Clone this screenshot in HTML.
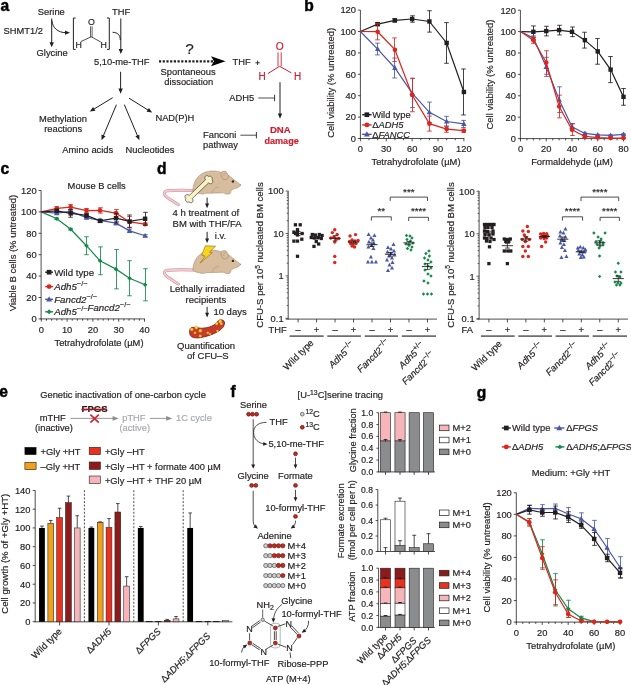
<!DOCTYPE html>
<html><head><meta charset="utf-8"><style>
html,body{margin:0;padding:0;background:#fff;}
svg{display:block;font-family:"Liberation Sans",sans-serif;will-change:transform;}
</style></head><body>
<svg width="631" height="685" viewBox="0 0 631 685" fill="#231f20">
<rect width="631" height="685" fill="#fff"/>
<text x="0.40" y="10.70" font-size="15.6" fill="#000" font-weight="bold" stroke="#000" stroke-width="0.45" >a</text>
<text x="37.80" y="14.80" font-size="9.35" stroke="#231f20" stroke-width="0.18" >Serine</text>
<text x="112.00" y="14.60" font-size="9.35" stroke="#231f20" stroke-width="0.18" >THF</text>
<text x="3.60" y="34.00" font-size="9.35" stroke="#231f20" stroke-width="0.18" >SHMT1/2</text>
<text x="36.60" y="56.40" font-size="9.35" stroke="#231f20" stroke-width="0.18" >Glycine</text>
<line x1="51.70" y1="18.50" x2="51.70" y2="43.20" stroke="#231f20" stroke-width="1.0" />
<path d="M51.70,47.20 L49.50,42.20 L53.90,42.20 Z" fill="#231f20"/>
<path d="M51.9,20.5 C52.5,28 58,32.6 66.0,32.7" stroke="#231f20" stroke-width="1.0" fill="none" />
<path d="M70.00,32.70 L65.00,34.80 L65.00,30.60 Z" fill="#231f20"/>
<path d="M75.6,18.0 L73.4,18.0 L73.4,49.4 L75.6,49.4" stroke="#231f20" stroke-width="1.0" fill="none" />
<path d="M107.0,18.0 L109.3,18.0 L109.3,49.4 L107.0,49.4" stroke="#231f20" stroke-width="1.0" fill="none" />
<text x="91.30" y="25.40" font-size="8.8" text-anchor="middle" stroke="#231f20" stroke-width="0.18" >O</text>
<line x1="90.50" y1="26.30" x2="90.50" y2="37.20" stroke="#231f20" stroke-width="0.7" />
<line x1="92.10" y1="26.30" x2="92.10" y2="37.20" stroke="#231f20" stroke-width="0.7" />
<line x1="80.80" y1="41.60" x2="91.20" y2="36.80" stroke="#231f20" stroke-width="0.8" />
<line x1="91.20" y1="36.80" x2="100.80" y2="42.00" stroke="#231f20" stroke-width="0.8" />
<text x="75.60" y="47.60" font-size="8.8" stroke="#231f20" stroke-width="0.18" >H</text>
<text x="100.60" y="47.60" font-size="8.8" stroke="#231f20" stroke-width="0.18" >H</text>
<line x1="120.80" y1="18.50" x2="120.80" y2="50.00" stroke="#231f20" stroke-width="1.0" />
<path d="M120.80,54.00 L118.60,49.00 L123.00,49.00 Z" fill="#231f20"/>
<path d="M112.6,32.3 C117.5,32.3 120.3,35 120.3,40.0" stroke="#231f20" stroke-width="1.0" fill="none" />
<text x="94.00" y="65.20" font-size="9.35" stroke="#231f20" stroke-width="0.18" >5,10-me-THF</text>
<line x1="159.00" y1="61.30" x2="213.50" y2="61.30" stroke="#231f20" stroke-width="2.3" stroke-dasharray="2.2 1.5"/>
<path d="M225.5,61.2 L211.0,56.2 L214.0,61.2 L211.0,66.2 Z" fill="#000"/>
<text x="189.60" y="54.20" font-size="15.4" text-anchor="middle" stroke="#231f20" stroke-width="0.18" >?</text>
<text x="160.60" y="74.80" font-size="9.35" stroke="#231f20" stroke-width="0.18" >Spontaneous</text>
<text x="164.30" y="85.00" font-size="9.35" stroke="#231f20" stroke-width="0.18" >dissociation</text>
<text x="232.50" y="65.40" font-size="9.35" stroke="#231f20" stroke-width="0.18" >THF</text>
<line x1="255.40" y1="62.80" x2="259.80" y2="62.80" stroke="#231f20" stroke-width="0.9" />
<line x1="257.60" y1="60.60" x2="257.60" y2="65.00" stroke="#231f20" stroke-width="0.9" />
<text x="279.60" y="50.30" font-size="10.2" text-anchor="middle" fill="#cc1f2e" stroke="#cc1f2e" stroke-width="0.18" >O</text>
<line x1="278.00" y1="52.40" x2="278.00" y2="66.20" stroke="#cc1f2e" stroke-width="0.9" />
<line x1="281.20" y1="52.40" x2="281.20" y2="66.20" stroke="#cc1f2e" stroke-width="0.9" />
<path d="M267.8,73.6 L279.6,66.3 L291.4,72.9" stroke="#cc1f2e" stroke-width="1.0" fill="none" />
<text x="258.60" y="80.30" font-size="10.0" fill="#cc1f2e" stroke="#cc1f2e" stroke-width="0.18" >H</text>
<text x="294.00" y="80.30" font-size="10.0" fill="#cc1f2e" stroke="#cc1f2e" stroke-width="0.18" >H</text>
<line x1="280.00" y1="82.20" x2="280.00" y2="114.64" stroke="#231f20" stroke-width="1.0" />
<path d="M280.00,118.80 L277.80,113.60 L282.20,113.60 Z" fill="#231f20"/>
<text x="229.20" y="101.20" font-size="9.35" stroke="#231f20" stroke-width="0.18" >ADH5</text>
<line x1="258.30" y1="98.00" x2="274.60" y2="98.00" stroke="#231f20" stroke-width="0.8" />
<line x1="274.60" y1="94.80" x2="274.60" y2="101.20" stroke="#231f20" stroke-width="0.9" />
<text x="280.30" y="133.20" font-size="9.6" text-anchor="middle" fill="#cc1f2e" font-weight="bold" stroke="#cc1f2e" stroke-width="0.18" >DNA</text>
<text x="281.60" y="144.00" font-size="9.1" text-anchor="middle" fill="#cc1f2e" font-weight="bold" stroke="#cc1f2e" stroke-width="0.18" >damage</text>
<text x="203.00" y="137.60" font-size="9.35" stroke="#231f20" stroke-width="0.18" >Fanconi</text>
<text x="203.00" y="147.90" font-size="9.35" stroke="#231f20" stroke-width="0.18" >pathway</text>
<line x1="240.40" y1="135.20" x2="256.40" y2="135.20" stroke="#231f20" stroke-width="0.8" />
<line x1="256.40" y1="132.00" x2="256.40" y2="138.40" stroke="#231f20" stroke-width="0.9" />
<line x1="120.60" y1="71.80" x2="120.60" y2="89.64" stroke="#231f20" stroke-width="1.0" />
<path d="M120.60,93.80 L118.40,88.60 L122.80,88.60 Z" fill="#231f20"/>
<line x1="112.70" y1="97.70" x2="93.36" y2="109.44" stroke="#231f20" stroke-width="1.0" />
<path d="M89.80,111.60 L93.10,107.02 L95.39,110.78 Z" fill="#231f20"/>
<line x1="116.40" y1="104.70" x2="103.11" y2="136.36" stroke="#231f20" stroke-width="1.0" />
<path d="M101.50,140.20 L101.48,134.55 L105.54,136.26 Z" fill="#231f20"/>
<line x1="129.00" y1="98.20" x2="148.67" y2="110.41" stroke="#231f20" stroke-width="1.0" />
<path d="M152.20,112.60 L146.62,111.73 L148.94,107.99 Z" fill="#231f20"/>
<line x1="124.30" y1="104.60" x2="137.78" y2="136.47" stroke="#231f20" stroke-width="1.0" />
<path d="M139.40,140.30 L135.35,136.37 L139.40,134.65 Z" fill="#231f20"/>
<text x="39.10" y="121.50" font-size="9.35" stroke="#231f20" stroke-width="0.18" >Methylation</text>
<text x="44.20" y="132.10" font-size="9.35" stroke="#231f20" stroke-width="0.18" >reactions</text>
<text x="62.30" y="152.70" font-size="9.35" stroke="#231f20" stroke-width="0.18" >Amino acids</text>
<text x="155.40" y="120.90" font-size="9.35" stroke="#231f20" stroke-width="0.18" >NAD(P)H</text>
<text x="125.60" y="153.20" font-size="9.35" stroke="#231f20" stroke-width="0.18" >Nucleotides</text>
<text x="304.30" y="10.70" font-size="15.6" fill="#000" font-weight="bold" stroke="#000" stroke-width="0.45" >b</text>
<line x1="360.40" y1="10.10" x2="360.40" y2="138.90" stroke="#231f20" stroke-width="0.8" />
<line x1="357.90" y1="138.50" x2="360.40" y2="138.50" stroke="#231f20" stroke-width="0.8" />
<text x="356.00" y="141.80" font-size="9.35" text-anchor="end" stroke="#231f20" stroke-width="0.18" >0</text>
<line x1="357.90" y1="117.10" x2="360.40" y2="117.10" stroke="#231f20" stroke-width="0.8" />
<text x="356.00" y="120.40" font-size="9.35" text-anchor="end" stroke="#231f20" stroke-width="0.18" >20</text>
<line x1="357.90" y1="95.70" x2="360.40" y2="95.70" stroke="#231f20" stroke-width="0.8" />
<text x="356.00" y="99.00" font-size="9.35" text-anchor="end" stroke="#231f20" stroke-width="0.18" >40</text>
<line x1="357.90" y1="74.30" x2="360.40" y2="74.30" stroke="#231f20" stroke-width="0.8" />
<text x="356.00" y="77.60" font-size="9.35" text-anchor="end" stroke="#231f20" stroke-width="0.18" >60</text>
<line x1="357.90" y1="52.90" x2="360.40" y2="52.90" stroke="#231f20" stroke-width="0.8" />
<text x="356.00" y="56.20" font-size="9.35" text-anchor="end" stroke="#231f20" stroke-width="0.18" >80</text>
<line x1="357.90" y1="31.50" x2="360.40" y2="31.50" stroke="#231f20" stroke-width="0.8" />
<text x="356.00" y="34.80" font-size="9.35" text-anchor="end" stroke="#231f20" stroke-width="0.18" >100</text>
<line x1="357.90" y1="10.10" x2="360.40" y2="10.10" stroke="#231f20" stroke-width="0.8" />
<text x="356.00" y="13.40" font-size="9.35" text-anchor="end" stroke="#231f20" stroke-width="0.18" >120</text>
<line x1="360.00" y1="138.50" x2="464.30" y2="138.50" stroke="#231f20" stroke-width="0.8" />
<line x1="360.40" y1="138.50" x2="360.40" y2="141.30" stroke="#231f20" stroke-width="0.8" />
<line x1="369.02" y1="138.50" x2="369.02" y2="140.30" stroke="#231f20" stroke-width="0.8" />
<line x1="377.65" y1="138.50" x2="377.65" y2="140.30" stroke="#231f20" stroke-width="0.8" />
<line x1="386.27" y1="138.50" x2="386.27" y2="141.30" stroke="#231f20" stroke-width="0.8" />
<line x1="394.90" y1="138.50" x2="394.90" y2="140.30" stroke="#231f20" stroke-width="0.8" />
<line x1="403.52" y1="138.50" x2="403.52" y2="140.30" stroke="#231f20" stroke-width="0.8" />
<line x1="412.15" y1="138.50" x2="412.15" y2="141.30" stroke="#231f20" stroke-width="0.8" />
<line x1="420.77" y1="138.50" x2="420.77" y2="140.30" stroke="#231f20" stroke-width="0.8" />
<line x1="429.40" y1="138.50" x2="429.40" y2="140.30" stroke="#231f20" stroke-width="0.8" />
<line x1="438.02" y1="138.50" x2="438.02" y2="141.30" stroke="#231f20" stroke-width="0.8" />
<line x1="446.65" y1="138.50" x2="446.65" y2="140.30" stroke="#231f20" stroke-width="0.8" />
<line x1="455.27" y1="138.50" x2="455.27" y2="140.30" stroke="#231f20" stroke-width="0.8" />
<line x1="463.90" y1="138.50" x2="463.90" y2="141.30" stroke="#231f20" stroke-width="0.8" />
<text x="360.40" y="152.30" font-size="9.35" text-anchor="middle" stroke="#231f20" stroke-width="0.18" >0</text>
<text x="386.27" y="152.30" font-size="9.35" text-anchor="middle" stroke="#231f20" stroke-width="0.18" >30</text>
<text x="412.15" y="152.30" font-size="9.35" text-anchor="middle" stroke="#231f20" stroke-width="0.18" >60</text>
<text x="438.02" y="152.30" font-size="9.35" text-anchor="middle" stroke="#231f20" stroke-width="0.18" >90</text>
<text x="463.90" y="152.30" font-size="9.35" text-anchor="middle" stroke="#231f20" stroke-width="0.18" >120</text>
<text x="416.00" y="165.10" font-size="9.35" text-anchor="middle" stroke="#231f20" stroke-width="0.18" >Tetrahydrofolate (µM)</text>
<text x="334.00" y="82.80" font-size="9.47" text-anchor="middle" transform="rotate(-90 334.00 82.80)" stroke="#231f20" stroke-width="0.18" >Cell viability (% untreated)</text>
<line x1="377.50" y1="22.51" x2="377.50" y2="25.72" stroke="#231f20" stroke-width="0.85" />
<line x1="375.20" y1="22.51" x2="379.80" y2="22.51" stroke="#231f20" stroke-width="0.85" />
<line x1="375.20" y1="25.72" x2="379.80" y2="25.72" stroke="#231f20" stroke-width="0.85" />
<line x1="394.50" y1="18.77" x2="394.50" y2="21.98" stroke="#231f20" stroke-width="0.85" />
<line x1="392.20" y1="18.77" x2="396.80" y2="18.77" stroke="#231f20" stroke-width="0.85" />
<line x1="392.20" y1="21.98" x2="396.80" y2="21.98" stroke="#231f20" stroke-width="0.85" />
<line x1="412.50" y1="15.77" x2="412.50" y2="22.19" stroke="#231f20" stroke-width="0.85" />
<line x1="410.20" y1="15.77" x2="414.80" y2="15.77" stroke="#231f20" stroke-width="0.85" />
<line x1="410.20" y1="22.19" x2="414.80" y2="22.19" stroke="#231f20" stroke-width="0.85" />
<line x1="429.50" y1="10.74" x2="429.50" y2="32.14" stroke="#231f20" stroke-width="0.85" />
<line x1="427.20" y1="10.74" x2="431.80" y2="10.74" stroke="#231f20" stroke-width="0.85" />
<line x1="427.20" y1="32.14" x2="431.80" y2="32.14" stroke="#231f20" stroke-width="0.85" />
<line x1="446.50" y1="22.62" x2="446.50" y2="63.28" stroke="#231f20" stroke-width="0.85" />
<line x1="444.20" y1="22.62" x2="448.80" y2="22.62" stroke="#231f20" stroke-width="0.85" />
<line x1="444.20" y1="63.28" x2="448.80" y2="63.28" stroke="#231f20" stroke-width="0.85" />
<line x1="463.50" y1="68.95" x2="463.50" y2="114.96" stroke="#231f20" stroke-width="0.85" />
<line x1="461.20" y1="68.95" x2="465.80" y2="68.95" stroke="#231f20" stroke-width="0.85" />
<line x1="461.20" y1="114.96" x2="465.80" y2="114.96" stroke="#231f20" stroke-width="0.85" />
<path d="M360.40,31.50 L377.65,24.12 L394.90,20.37 L412.15,18.98 L429.40,21.44 L446.65,42.95 L463.90,91.95" stroke="#231f20" stroke-width="1.2" fill="none" />
<rect x="375.44" y="21.91" width="4.41" height="4.41" fill="#231f20" stroke="none" stroke-width="0.6"/>
<rect x="392.69" y="18.17" width="4.41" height="4.41" fill="#231f20" stroke="none" stroke-width="0.6"/>
<rect x="409.94" y="16.78" width="4.41" height="4.41" fill="#231f20" stroke="none" stroke-width="0.6"/>
<rect x="427.19" y="19.24" width="4.41" height="4.41" fill="#231f20" stroke="none" stroke-width="0.6"/>
<rect x="444.44" y="40.74" width="4.41" height="4.41" fill="#231f20" stroke="none" stroke-width="0.6"/>
<rect x="461.69" y="89.75" width="4.41" height="4.41" fill="#231f20" stroke="none" stroke-width="0.6"/>
<line x1="377.50" y1="43.16" x2="377.50" y2="54.93" stroke="#4a56a6" stroke-width="0.85" />
<line x1="375.20" y1="43.16" x2="379.80" y2="43.16" stroke="#4a56a6" stroke-width="0.85" />
<line x1="375.20" y1="54.93" x2="379.80" y2="54.93" stroke="#4a56a6" stroke-width="0.85" />
<line x1="394.50" y1="58.04" x2="394.50" y2="77.94" stroke="#4a56a6" stroke-width="0.85" />
<line x1="392.20" y1="58.04" x2="396.80" y2="58.04" stroke="#4a56a6" stroke-width="0.85" />
<line x1="392.20" y1="77.94" x2="396.80" y2="77.94" stroke="#4a56a6" stroke-width="0.85" />
<line x1="412.50" y1="78.58" x2="412.50" y2="107.47" stroke="#4a56a6" stroke-width="0.85" />
<line x1="410.20" y1="78.58" x2="414.80" y2="78.58" stroke="#4a56a6" stroke-width="0.85" />
<line x1="410.20" y1="107.47" x2="414.80" y2="107.47" stroke="#4a56a6" stroke-width="0.85" />
<line x1="429.50" y1="102.12" x2="429.50" y2="122.45" stroke="#4a56a6" stroke-width="0.85" />
<line x1="427.20" y1="102.12" x2="431.80" y2="102.12" stroke="#4a56a6" stroke-width="0.85" />
<line x1="427.20" y1="122.45" x2="431.80" y2="122.45" stroke="#4a56a6" stroke-width="0.85" />
<line x1="446.50" y1="116.35" x2="446.50" y2="126.62" stroke="#4a56a6" stroke-width="0.85" />
<line x1="444.20" y1="116.35" x2="448.80" y2="116.35" stroke="#4a56a6" stroke-width="0.85" />
<line x1="444.20" y1="126.62" x2="448.80" y2="126.62" stroke="#4a56a6" stroke-width="0.85" />
<line x1="463.50" y1="120.42" x2="463.50" y2="127.48" stroke="#4a56a6" stroke-width="0.85" />
<line x1="461.20" y1="120.42" x2="465.80" y2="120.42" stroke="#4a56a6" stroke-width="0.85" />
<line x1="461.20" y1="127.48" x2="465.80" y2="127.48" stroke="#4a56a6" stroke-width="0.85" />
<path d="M360.40,31.50 L377.65,49.05 L394.90,67.99 L412.15,93.03 L429.40,112.28 L446.65,121.49 L463.90,123.95" stroke="#4a56a6" stroke-width="1.2" fill="none" />
<path d="M377.65,46.18 L380.38,51.10 L374.92,51.10 Z" fill="#4a56a6"/>
<path d="M394.90,65.12 L397.63,70.03 L392.17,70.03 Z" fill="#4a56a6"/>
<path d="M412.15,90.16 L414.88,95.07 L409.42,95.07 Z" fill="#4a56a6"/>
<path d="M429.40,109.42 L432.13,114.33 L426.67,114.33 Z" fill="#4a56a6"/>
<path d="M446.65,118.62 L449.38,123.53 L443.92,123.53 Z" fill="#4a56a6"/>
<path d="M463.90,121.08 L466.63,126.00 L461.17,126.00 Z" fill="#4a56a6"/>
<line x1="377.50" y1="23.58" x2="377.50" y2="39.85" stroke="#d9261e" stroke-width="0.85" />
<line x1="375.20" y1="23.58" x2="379.80" y2="23.58" stroke="#d9261e" stroke-width="0.85" />
<line x1="375.20" y1="39.85" x2="379.80" y2="39.85" stroke="#d9261e" stroke-width="0.85" />
<line x1="394.50" y1="37.92" x2="394.50" y2="61.46" stroke="#d9261e" stroke-width="0.85" />
<line x1="392.20" y1="37.92" x2="396.80" y2="37.92" stroke="#d9261e" stroke-width="0.85" />
<line x1="392.20" y1="61.46" x2="396.80" y2="61.46" stroke="#d9261e" stroke-width="0.85" />
<line x1="412.50" y1="78.15" x2="412.50" y2="111.75" stroke="#d9261e" stroke-width="0.85" />
<line x1="410.20" y1="78.15" x2="414.80" y2="78.15" stroke="#d9261e" stroke-width="0.85" />
<line x1="410.20" y1="111.75" x2="414.80" y2="111.75" stroke="#d9261e" stroke-width="0.85" />
<line x1="429.50" y1="116.14" x2="429.50" y2="131.12" stroke="#d9261e" stroke-width="0.85" />
<line x1="427.20" y1="116.14" x2="431.80" y2="116.14" stroke="#d9261e" stroke-width="0.85" />
<line x1="427.20" y1="131.12" x2="431.80" y2="131.12" stroke="#d9261e" stroke-width="0.85" />
<line x1="446.50" y1="125.87" x2="446.50" y2="132.29" stroke="#d9261e" stroke-width="0.85" />
<line x1="444.20" y1="125.87" x2="448.80" y2="125.87" stroke="#d9261e" stroke-width="0.85" />
<line x1="444.20" y1="132.29" x2="448.80" y2="132.29" stroke="#d9261e" stroke-width="0.85" />
<line x1="463.50" y1="129.08" x2="463.50" y2="132.29" stroke="#d9261e" stroke-width="0.85" />
<line x1="461.20" y1="129.08" x2="465.80" y2="129.08" stroke="#d9261e" stroke-width="0.85" />
<line x1="461.20" y1="132.29" x2="465.80" y2="132.29" stroke="#d9261e" stroke-width="0.85" />
<path d="M360.40,31.50 L377.65,31.71 L394.90,49.69 L412.15,94.95 L429.40,123.63 L446.65,129.08 L463.90,130.69" stroke="#d9261e" stroke-width="1.2" fill="none" />
<circle cx="377.65" cy="31.71" r="2.3100000000000005" fill="#d9261e" stroke="none" stroke-width="0.5"/>
<circle cx="394.90" cy="49.69" r="2.3100000000000005" fill="#d9261e" stroke="none" stroke-width="0.5"/>
<circle cx="412.15" cy="94.95" r="2.3100000000000005" fill="#d9261e" stroke="none" stroke-width="0.5"/>
<circle cx="429.40" cy="123.63" r="2.3100000000000005" fill="#d9261e" stroke="none" stroke-width="0.5"/>
<circle cx="446.65" cy="129.08" r="2.3100000000000005" fill="#d9261e" stroke="none" stroke-width="0.5"/>
<circle cx="463.90" cy="130.69" r="2.3100000000000005" fill="#d9261e" stroke="none" stroke-width="0.5"/>
<line x1="362.20" y1="114.70" x2="371.60" y2="114.70" stroke="#231f20" stroke-width="1.4" />
<rect x="364.55" y="112.35" width="4.70" height="4.70" fill="#231f20" stroke="none" stroke-width="0.6"/>
<text x="372.20" y="117.90" font-size="9.35" stroke="#231f20" stroke-width="0.18" >Wild type</text>
<line x1="362.20" y1="124.90" x2="371.60" y2="124.90" stroke="#d9261e" stroke-width="1.4" />
<circle cx="366.90" cy="124.90" r="2.4640000000000004" fill="#d9261e" stroke="none" stroke-width="0.5"/>
<text x="372.20" y="128.10" font-size="9.35" stroke="#231f20" stroke-width="0.18" >Δ<tspan font-style="italic">ADH5</tspan></text>
<line x1="362.20" y1="134.30" x2="371.60" y2="134.30" stroke="#4a56a6" stroke-width="1.4" />
<path d="M366.90,131.24 L369.81,136.48 L363.99,136.48 Z" fill="#4a56a6"/>
<text x="372.20" y="137.50" font-size="9.35" stroke="#231f20" stroke-width="0.18" >Δ<tspan font-style="italic">FANCC</tspan></text>
<line x1="520.40" y1="10.20" x2="520.40" y2="139.00" stroke="#231f20" stroke-width="0.8" />
<line x1="517.90" y1="138.60" x2="520.40" y2="138.60" stroke="#231f20" stroke-width="0.8" />
<text x="516.00" y="141.90" font-size="9.35" text-anchor="end" stroke="#231f20" stroke-width="0.18" >0</text>
<line x1="517.90" y1="117.20" x2="520.40" y2="117.20" stroke="#231f20" stroke-width="0.8" />
<text x="516.00" y="120.50" font-size="9.35" text-anchor="end" stroke="#231f20" stroke-width="0.18" >20</text>
<line x1="517.90" y1="95.80" x2="520.40" y2="95.80" stroke="#231f20" stroke-width="0.8" />
<text x="516.00" y="99.10" font-size="9.35" text-anchor="end" stroke="#231f20" stroke-width="0.18" >40</text>
<line x1="517.90" y1="74.40" x2="520.40" y2="74.40" stroke="#231f20" stroke-width="0.8" />
<text x="516.00" y="77.70" font-size="9.35" text-anchor="end" stroke="#231f20" stroke-width="0.18" >60</text>
<line x1="517.90" y1="53.00" x2="520.40" y2="53.00" stroke="#231f20" stroke-width="0.8" />
<text x="516.00" y="56.30" font-size="9.35" text-anchor="end" stroke="#231f20" stroke-width="0.18" >80</text>
<line x1="517.90" y1="31.60" x2="520.40" y2="31.60" stroke="#231f20" stroke-width="0.8" />
<text x="516.00" y="34.90" font-size="9.35" text-anchor="end" stroke="#231f20" stroke-width="0.18" >100</text>
<line x1="517.90" y1="10.20" x2="520.40" y2="10.20" stroke="#231f20" stroke-width="0.8" />
<text x="516.00" y="13.50" font-size="9.35" text-anchor="end" stroke="#231f20" stroke-width="0.18" >120</text>
<line x1="520.00" y1="138.60" x2="623.90" y2="138.60" stroke="#231f20" stroke-width="0.8" />
<line x1="520.50" y1="138.60" x2="520.50" y2="141.40" stroke="#231f20" stroke-width="0.8" />
<line x1="526.94" y1="138.60" x2="526.94" y2="140.40" stroke="#231f20" stroke-width="0.8" />
<line x1="533.38" y1="138.60" x2="533.38" y2="140.40" stroke="#231f20" stroke-width="0.8" />
<line x1="539.81" y1="138.60" x2="539.81" y2="140.40" stroke="#231f20" stroke-width="0.8" />
<line x1="546.25" y1="138.60" x2="546.25" y2="141.40" stroke="#231f20" stroke-width="0.8" />
<line x1="552.69" y1="138.60" x2="552.69" y2="140.40" stroke="#231f20" stroke-width="0.8" />
<line x1="559.12" y1="138.60" x2="559.12" y2="140.40" stroke="#231f20" stroke-width="0.8" />
<line x1="565.56" y1="138.60" x2="565.56" y2="140.40" stroke="#231f20" stroke-width="0.8" />
<line x1="572.00" y1="138.60" x2="572.00" y2="141.40" stroke="#231f20" stroke-width="0.8" />
<line x1="578.44" y1="138.60" x2="578.44" y2="140.40" stroke="#231f20" stroke-width="0.8" />
<line x1="584.88" y1="138.60" x2="584.88" y2="140.40" stroke="#231f20" stroke-width="0.8" />
<line x1="591.31" y1="138.60" x2="591.31" y2="140.40" stroke="#231f20" stroke-width="0.8" />
<line x1="597.75" y1="138.60" x2="597.75" y2="141.40" stroke="#231f20" stroke-width="0.8" />
<line x1="604.19" y1="138.60" x2="604.19" y2="140.40" stroke="#231f20" stroke-width="0.8" />
<line x1="610.62" y1="138.60" x2="610.62" y2="140.40" stroke="#231f20" stroke-width="0.8" />
<line x1="617.06" y1="138.60" x2="617.06" y2="140.40" stroke="#231f20" stroke-width="0.8" />
<line x1="623.50" y1="138.60" x2="623.50" y2="141.40" stroke="#231f20" stroke-width="0.8" />
<text x="520.50" y="152.30" font-size="9.35" text-anchor="middle" stroke="#231f20" stroke-width="0.18" >0</text>
<text x="546.25" y="152.30" font-size="9.35" text-anchor="middle" stroke="#231f20" stroke-width="0.18" >20</text>
<text x="572.00" y="152.30" font-size="9.35" text-anchor="middle" stroke="#231f20" stroke-width="0.18" >40</text>
<text x="597.75" y="152.30" font-size="9.35" text-anchor="middle" stroke="#231f20" stroke-width="0.18" >60</text>
<text x="623.50" y="152.30" font-size="9.35" text-anchor="middle" stroke="#231f20" stroke-width="0.18" >80</text>
<text x="572.00" y="165.10" font-size="9.35" text-anchor="middle" stroke="#231f20" stroke-width="0.18" >Formaldehyde (µM)</text>
<text x="493.20" y="74.50" font-size="9.47" text-anchor="middle" transform="rotate(-90 493.20 74.50)" stroke="#231f20" stroke-width="0.18" >Cell viability (% untreated)</text>
<line x1="533.50" y1="25.93" x2="533.50" y2="37.70" stroke="#231f20" stroke-width="0.85" />
<line x1="531.20" y1="25.93" x2="535.80" y2="25.93" stroke="#231f20" stroke-width="0.85" />
<line x1="531.20" y1="37.70" x2="535.80" y2="37.70" stroke="#231f20" stroke-width="0.85" />
<line x1="546.50" y1="26.25" x2="546.50" y2="35.88" stroke="#231f20" stroke-width="0.85" />
<line x1="544.20" y1="26.25" x2="548.80" y2="26.25" stroke="#231f20" stroke-width="0.85" />
<line x1="544.20" y1="35.88" x2="548.80" y2="35.88" stroke="#231f20" stroke-width="0.85" />
<line x1="559.50" y1="25.29" x2="559.50" y2="34.92" stroke="#231f20" stroke-width="0.85" />
<line x1="557.20" y1="25.29" x2="561.80" y2="25.29" stroke="#231f20" stroke-width="0.85" />
<line x1="557.20" y1="34.92" x2="561.80" y2="34.92" stroke="#231f20" stroke-width="0.85" />
<line x1="572.50" y1="27.00" x2="572.50" y2="36.63" stroke="#231f20" stroke-width="0.85" />
<line x1="570.20" y1="27.00" x2="574.80" y2="27.00" stroke="#231f20" stroke-width="0.85" />
<line x1="570.20" y1="36.63" x2="574.80" y2="36.63" stroke="#231f20" stroke-width="0.85" />
<line x1="584.50" y1="32.24" x2="584.50" y2="48.08" stroke="#231f20" stroke-width="0.85" />
<line x1="582.20" y1="32.24" x2="586.80" y2="32.24" stroke="#231f20" stroke-width="0.85" />
<line x1="582.20" y1="48.08" x2="586.80" y2="48.08" stroke="#231f20" stroke-width="0.85" />
<line x1="597.50" y1="38.55" x2="597.50" y2="64.23" stroke="#231f20" stroke-width="0.85" />
<line x1="595.20" y1="38.55" x2="599.80" y2="38.55" stroke="#231f20" stroke-width="0.85" />
<line x1="595.20" y1="64.23" x2="599.80" y2="64.23" stroke="#231f20" stroke-width="0.85" />
<line x1="610.50" y1="56.53" x2="610.50" y2="82.64" stroke="#231f20" stroke-width="0.85" />
<line x1="608.20" y1="56.53" x2="612.80" y2="56.53" stroke="#231f20" stroke-width="0.85" />
<line x1="608.20" y1="82.64" x2="612.80" y2="82.64" stroke="#231f20" stroke-width="0.85" />
<line x1="623.50" y1="88.52" x2="623.50" y2="105.22" stroke="#231f20" stroke-width="0.85" />
<line x1="621.20" y1="88.52" x2="625.80" y2="88.52" stroke="#231f20" stroke-width="0.85" />
<line x1="621.20" y1="105.22" x2="625.80" y2="105.22" stroke="#231f20" stroke-width="0.85" />
<path d="M520.50,31.60 L533.38,31.81 L546.25,31.06 L559.12,30.10 L572.00,31.81 L584.88,40.16 L597.75,51.39 L610.62,69.58 L623.50,96.87" stroke="#231f20" stroke-width="1.2" fill="none" />
<rect x="531.17" y="29.61" width="4.41" height="4.41" fill="#231f20" stroke="none" stroke-width="0.6"/>
<rect x="544.04" y="28.86" width="4.41" height="4.41" fill="#231f20" stroke="none" stroke-width="0.6"/>
<rect x="556.92" y="27.90" width="4.41" height="4.41" fill="#231f20" stroke="none" stroke-width="0.6"/>
<rect x="569.79" y="29.61" width="4.41" height="4.41" fill="#231f20" stroke="none" stroke-width="0.6"/>
<rect x="582.67" y="37.95" width="4.41" height="4.41" fill="#231f20" stroke="none" stroke-width="0.6"/>
<rect x="595.54" y="49.19" width="4.41" height="4.41" fill="#231f20" stroke="none" stroke-width="0.6"/>
<rect x="608.42" y="67.38" width="4.41" height="4.41" fill="#231f20" stroke="none" stroke-width="0.6"/>
<rect x="621.29" y="94.66" width="4.41" height="4.41" fill="#231f20" stroke="none" stroke-width="0.6"/>
<line x1="533.50" y1="35.88" x2="533.50" y2="40.16" stroke="#4a56a6" stroke-width="0.85" />
<line x1="531.20" y1="35.88" x2="535.80" y2="35.88" stroke="#4a56a6" stroke-width="0.85" />
<line x1="531.20" y1="40.16" x2="535.80" y2="40.16" stroke="#4a56a6" stroke-width="0.85" />
<line x1="546.50" y1="57.28" x2="546.50" y2="76.54" stroke="#4a56a6" stroke-width="0.85" />
<line x1="544.20" y1="57.28" x2="548.80" y2="57.28" stroke="#4a56a6" stroke-width="0.85" />
<line x1="544.20" y1="76.54" x2="548.80" y2="76.54" stroke="#4a56a6" stroke-width="0.85" />
<line x1="559.50" y1="86.81" x2="559.50" y2="112.49" stroke="#4a56a6" stroke-width="0.85" />
<line x1="557.20" y1="86.81" x2="561.80" y2="86.81" stroke="#4a56a6" stroke-width="0.85" />
<line x1="557.20" y1="112.49" x2="561.80" y2="112.49" stroke="#4a56a6" stroke-width="0.85" />
<line x1="572.50" y1="123.51" x2="572.50" y2="129.93" stroke="#4a56a6" stroke-width="0.85" />
<line x1="570.20" y1="123.51" x2="574.80" y2="123.51" stroke="#4a56a6" stroke-width="0.85" />
<line x1="570.20" y1="129.93" x2="574.80" y2="129.93" stroke="#4a56a6" stroke-width="0.85" />
<line x1="584.50" y1="132.39" x2="584.50" y2="134.53" stroke="#4a56a6" stroke-width="0.85" />
<line x1="582.20" y1="132.39" x2="586.80" y2="132.39" stroke="#4a56a6" stroke-width="0.85" />
<line x1="582.20" y1="134.53" x2="586.80" y2="134.53" stroke="#4a56a6" stroke-width="0.85" />
<line x1="597.50" y1="134.32" x2="597.50" y2="135.39" stroke="#4a56a6" stroke-width="0.85" />
<line x1="595.20" y1="134.32" x2="599.80" y2="134.32" stroke="#4a56a6" stroke-width="0.85" />
<line x1="595.20" y1="135.39" x2="599.80" y2="135.39" stroke="#4a56a6" stroke-width="0.85" />
<line x1="610.50" y1="134.85" x2="610.50" y2="135.92" stroke="#4a56a6" stroke-width="0.85" />
<line x1="608.20" y1="134.85" x2="612.80" y2="134.85" stroke="#4a56a6" stroke-width="0.85" />
<line x1="608.20" y1="135.92" x2="612.80" y2="135.92" stroke="#4a56a6" stroke-width="0.85" />
<line x1="623.50" y1="133.78" x2="623.50" y2="134.85" stroke="#4a56a6" stroke-width="0.85" />
<line x1="621.20" y1="133.78" x2="625.80" y2="133.78" stroke="#4a56a6" stroke-width="0.85" />
<line x1="621.20" y1="134.85" x2="625.80" y2="134.85" stroke="#4a56a6" stroke-width="0.85" />
<path d="M520.50,31.60 L533.38,38.02 L546.25,66.91 L559.12,99.65 L572.00,126.72 L584.88,133.46 L597.75,134.85 L610.62,135.39 L623.50,134.32" stroke="#4a56a6" stroke-width="1.2" fill="none" />
<path d="M533.38,35.15 L536.11,40.07 L530.64,40.07 Z" fill="#4a56a6"/>
<path d="M546.25,64.04 L548.98,68.96 L543.52,68.96 Z" fill="#4a56a6"/>
<path d="M559.12,96.79 L561.86,101.70 L556.39,101.70 Z" fill="#4a56a6"/>
<path d="M572.00,123.86 L574.73,128.77 L569.27,128.77 Z" fill="#4a56a6"/>
<path d="M584.88,130.60 L587.61,135.51 L582.14,135.51 Z" fill="#4a56a6"/>
<path d="M597.75,131.99 L600.48,136.90 L595.02,136.90 Z" fill="#4a56a6"/>
<path d="M610.62,132.52 L613.36,137.44 L607.89,137.44 Z" fill="#4a56a6"/>
<path d="M623.50,131.45 L626.23,136.37 L620.77,136.37 Z" fill="#4a56a6"/>
<line x1="533.50" y1="36.95" x2="533.50" y2="43.37" stroke="#d9261e" stroke-width="0.85" />
<line x1="531.20" y1="36.95" x2="535.80" y2="36.95" stroke="#d9261e" stroke-width="0.85" />
<line x1="531.20" y1="43.37" x2="535.80" y2="43.37" stroke="#d9261e" stroke-width="0.85" />
<line x1="546.50" y1="50.75" x2="546.50" y2="74.29" stroke="#d9261e" stroke-width="0.85" />
<line x1="544.20" y1="50.75" x2="548.80" y2="50.75" stroke="#d9261e" stroke-width="0.85" />
<line x1="544.20" y1="74.29" x2="548.80" y2="74.29" stroke="#d9261e" stroke-width="0.85" />
<line x1="559.50" y1="95.16" x2="559.50" y2="117.84" stroke="#d9261e" stroke-width="0.85" />
<line x1="557.20" y1="95.16" x2="561.80" y2="95.16" stroke="#d9261e" stroke-width="0.85" />
<line x1="557.20" y1="117.84" x2="561.80" y2="117.84" stroke="#d9261e" stroke-width="0.85" />
<line x1="572.50" y1="123.94" x2="572.50" y2="135.50" stroke="#d9261e" stroke-width="0.85" />
<line x1="570.20" y1="123.94" x2="574.80" y2="123.94" stroke="#d9261e" stroke-width="0.85" />
<line x1="570.20" y1="135.50" x2="574.80" y2="135.50" stroke="#d9261e" stroke-width="0.85" />
<line x1="584.50" y1="135.39" x2="584.50" y2="137.53" stroke="#d9261e" stroke-width="0.85" />
<line x1="582.20" y1="135.39" x2="586.80" y2="135.39" stroke="#d9261e" stroke-width="0.85" />
<line x1="582.20" y1="137.53" x2="586.80" y2="137.53" stroke="#d9261e" stroke-width="0.85" />
<line x1="597.50" y1="137.00" x2="597.50" y2="138.06" stroke="#d9261e" stroke-width="0.85" />
<line x1="595.20" y1="137.00" x2="599.80" y2="137.00" stroke="#d9261e" stroke-width="0.85" />
<line x1="595.20" y1="138.06" x2="599.80" y2="138.06" stroke="#d9261e" stroke-width="0.85" />
<line x1="610.50" y1="137.74" x2="610.50" y2="138.39" stroke="#d9261e" stroke-width="0.85" />
<line x1="608.20" y1="137.74" x2="612.80" y2="137.74" stroke="#d9261e" stroke-width="0.85" />
<line x1="608.20" y1="138.39" x2="612.80" y2="138.39" stroke="#d9261e" stroke-width="0.85" />
<line x1="623.50" y1="137.74" x2="623.50" y2="138.39" stroke="#d9261e" stroke-width="0.85" />
<line x1="621.20" y1="137.74" x2="625.80" y2="137.74" stroke="#d9261e" stroke-width="0.85" />
<line x1="621.20" y1="138.39" x2="625.80" y2="138.39" stroke="#d9261e" stroke-width="0.85" />
<path d="M520.50,31.60 L533.38,40.16 L546.25,62.52 L559.12,106.50 L572.00,129.72 L584.88,136.46 L597.75,137.53 L610.62,138.06 L623.50,138.06" stroke="#d9261e" stroke-width="1.2" fill="none" />
<circle cx="533.38" cy="40.16" r="2.3100000000000005" fill="#d9261e" stroke="none" stroke-width="0.5"/>
<circle cx="546.25" cy="62.52" r="2.3100000000000005" fill="#d9261e" stroke="none" stroke-width="0.5"/>
<circle cx="559.12" cy="106.50" r="2.3100000000000005" fill="#d9261e" stroke="none" stroke-width="0.5"/>
<circle cx="572.00" cy="129.72" r="2.3100000000000005" fill="#d9261e" stroke="none" stroke-width="0.5"/>
<circle cx="584.88" cy="136.46" r="2.3100000000000005" fill="#d9261e" stroke="none" stroke-width="0.5"/>
<circle cx="597.75" cy="137.53" r="2.3100000000000005" fill="#d9261e" stroke="none" stroke-width="0.5"/>
<circle cx="610.62" cy="138.06" r="2.3100000000000005" fill="#d9261e" stroke="none" stroke-width="0.5"/>
<circle cx="623.50" cy="138.06" r="2.3100000000000005" fill="#d9261e" stroke="none" stroke-width="0.5"/>
<text x="0.60" y="174.00" font-size="15.6" fill="#000" font-weight="bold" stroke="#000" stroke-width="0.45" >c</text>
<text x="67.60" y="188.50" font-size="9.35" stroke="#231f20" stroke-width="0.18" >Mouse B cells</text>
<line x1="41.10" y1="190.50" x2="41.10" y2="319.30" stroke="#231f20" stroke-width="0.8" />
<line x1="38.60" y1="318.90" x2="41.10" y2="318.90" stroke="#231f20" stroke-width="0.8" />
<text x="36.60" y="322.20" font-size="9.35" text-anchor="end" stroke="#231f20" stroke-width="0.18" >0</text>
<line x1="38.60" y1="297.50" x2="41.10" y2="297.50" stroke="#231f20" stroke-width="0.8" />
<text x="36.60" y="300.80" font-size="9.35" text-anchor="end" stroke="#231f20" stroke-width="0.18" >20</text>
<line x1="38.60" y1="276.10" x2="41.10" y2="276.10" stroke="#231f20" stroke-width="0.8" />
<text x="36.60" y="279.40" font-size="9.35" text-anchor="end" stroke="#231f20" stroke-width="0.18" >40</text>
<line x1="38.60" y1="254.70" x2="41.10" y2="254.70" stroke="#231f20" stroke-width="0.8" />
<text x="36.60" y="258.00" font-size="9.35" text-anchor="end" stroke="#231f20" stroke-width="0.18" >60</text>
<line x1="38.60" y1="233.30" x2="41.10" y2="233.30" stroke="#231f20" stroke-width="0.8" />
<text x="36.60" y="236.60" font-size="9.35" text-anchor="end" stroke="#231f20" stroke-width="0.18" >80</text>
<line x1="38.60" y1="211.90" x2="41.10" y2="211.90" stroke="#231f20" stroke-width="0.8" />
<text x="36.60" y="215.20" font-size="9.35" text-anchor="end" stroke="#231f20" stroke-width="0.18" >100</text>
<line x1="38.60" y1="190.50" x2="41.10" y2="190.50" stroke="#231f20" stroke-width="0.8" />
<text x="36.60" y="193.80" font-size="9.35" text-anchor="end" stroke="#231f20" stroke-width="0.18" >120</text>
<line x1="40.70" y1="318.90" x2="144.90" y2="318.90" stroke="#231f20" stroke-width="0.8" />
<line x1="41.30" y1="318.90" x2="41.30" y2="321.70" stroke="#231f20" stroke-width="0.8" />
<line x1="46.46" y1="318.90" x2="46.46" y2="320.70" stroke="#231f20" stroke-width="0.8" />
<line x1="51.62" y1="318.90" x2="51.62" y2="320.70" stroke="#231f20" stroke-width="0.8" />
<line x1="56.78" y1="318.90" x2="56.78" y2="320.70" stroke="#231f20" stroke-width="0.8" />
<line x1="61.94" y1="318.90" x2="61.94" y2="320.70" stroke="#231f20" stroke-width="0.8" />
<line x1="67.10" y1="318.90" x2="67.10" y2="321.70" stroke="#231f20" stroke-width="0.8" />
<line x1="72.26" y1="318.90" x2="72.26" y2="320.70" stroke="#231f20" stroke-width="0.8" />
<line x1="77.42" y1="318.90" x2="77.42" y2="320.70" stroke="#231f20" stroke-width="0.8" />
<line x1="82.58" y1="318.90" x2="82.58" y2="320.70" stroke="#231f20" stroke-width="0.8" />
<line x1="87.74" y1="318.90" x2="87.74" y2="320.70" stroke="#231f20" stroke-width="0.8" />
<line x1="92.90" y1="318.90" x2="92.90" y2="321.70" stroke="#231f20" stroke-width="0.8" />
<line x1="98.06" y1="318.90" x2="98.06" y2="320.70" stroke="#231f20" stroke-width="0.8" />
<line x1="103.22" y1="318.90" x2="103.22" y2="320.70" stroke="#231f20" stroke-width="0.8" />
<line x1="108.38" y1="318.90" x2="108.38" y2="320.70" stroke="#231f20" stroke-width="0.8" />
<line x1="113.54" y1="318.90" x2="113.54" y2="320.70" stroke="#231f20" stroke-width="0.8" />
<line x1="118.70" y1="318.90" x2="118.70" y2="321.70" stroke="#231f20" stroke-width="0.8" />
<line x1="123.86" y1="318.90" x2="123.86" y2="320.70" stroke="#231f20" stroke-width="0.8" />
<line x1="129.02" y1="318.90" x2="129.02" y2="320.70" stroke="#231f20" stroke-width="0.8" />
<line x1="134.18" y1="318.90" x2="134.18" y2="320.70" stroke="#231f20" stroke-width="0.8" />
<line x1="139.34" y1="318.90" x2="139.34" y2="320.70" stroke="#231f20" stroke-width="0.8" />
<line x1="144.50" y1="318.90" x2="144.50" y2="321.70" stroke="#231f20" stroke-width="0.8" />
<text x="41.30" y="333.10" font-size="9.35" text-anchor="middle" stroke="#231f20" stroke-width="0.18" >0</text>
<text x="67.10" y="333.10" font-size="9.35" text-anchor="middle" stroke="#231f20" stroke-width="0.18" >10</text>
<text x="92.90" y="333.10" font-size="9.35" text-anchor="middle" stroke="#231f20" stroke-width="0.18" >20</text>
<text x="118.70" y="333.10" font-size="9.35" text-anchor="middle" stroke="#231f20" stroke-width="0.18" >30</text>
<text x="144.50" y="333.10" font-size="9.35" text-anchor="middle" stroke="#231f20" stroke-width="0.18" >40</text>
<text x="99.00" y="346.30" font-size="9.35" text-anchor="middle" stroke="#231f20" stroke-width="0.18" >Tetrahydrofolate (µM)</text>
<text x="15.90" y="253.00" font-size="9.45" text-anchor="middle" transform="rotate(-90 15.90 253.00)" stroke="#231f20" stroke-width="0.18" >Viable B cells (% untreated)</text>
<line x1="56.50" y1="217.89" x2="56.50" y2="219.60" stroke="#14894a" stroke-width="0.85" />
<line x1="54.20" y1="217.89" x2="58.80" y2="217.89" stroke="#14894a" stroke-width="0.85" />
<line x1="54.20" y1="219.60" x2="58.80" y2="219.60" stroke="#14894a" stroke-width="0.85" />
<line x1="70.50" y1="228.38" x2="70.50" y2="230.09" stroke="#14894a" stroke-width="0.85" />
<line x1="68.20" y1="228.38" x2="72.80" y2="228.38" stroke="#14894a" stroke-width="0.85" />
<line x1="68.20" y1="230.09" x2="72.80" y2="230.09" stroke="#14894a" stroke-width="0.85" />
<line x1="86.50" y1="236.72" x2="86.50" y2="254.70" stroke="#14894a" stroke-width="0.85" />
<line x1="84.20" y1="236.72" x2="88.80" y2="236.72" stroke="#14894a" stroke-width="0.85" />
<line x1="84.20" y1="254.70" x2="88.80" y2="254.70" stroke="#14894a" stroke-width="0.85" />
<line x1="100.50" y1="246.89" x2="100.50" y2="274.71" stroke="#14894a" stroke-width="0.85" />
<line x1="98.20" y1="246.89" x2="102.80" y2="246.89" stroke="#14894a" stroke-width="0.85" />
<line x1="98.20" y1="274.71" x2="102.80" y2="274.71" stroke="#14894a" stroke-width="0.85" />
<line x1="116.50" y1="249.46" x2="116.50" y2="288.83" stroke="#14894a" stroke-width="0.85" />
<line x1="114.20" y1="249.46" x2="118.80" y2="249.46" stroke="#14894a" stroke-width="0.85" />
<line x1="114.20" y1="288.83" x2="118.80" y2="288.83" stroke="#14894a" stroke-width="0.85" />
<line x1="129.50" y1="260.69" x2="129.50" y2="295.79" stroke="#14894a" stroke-width="0.85" />
<line x1="127.20" y1="260.69" x2="131.80" y2="260.69" stroke="#14894a" stroke-width="0.85" />
<line x1="127.20" y1="295.79" x2="131.80" y2="295.79" stroke="#14894a" stroke-width="0.85" />
<line x1="145.50" y1="268.72" x2="145.50" y2="300.82" stroke="#14894a" stroke-width="0.85" />
<line x1="143.20" y1="268.72" x2="147.80" y2="268.72" stroke="#14894a" stroke-width="0.85" />
<line x1="143.20" y1="300.82" x2="147.80" y2="300.82" stroke="#14894a" stroke-width="0.85" />
<path d="M41.30,211.90 L56.90,218.75 L70.70,229.23 L86.50,245.71 L100.00,260.80 L116.00,269.14 L129.60,278.24 L145.10,284.77" stroke="#14894a" stroke-width="1.2" fill="none" />
<path d="M56.90,216.44 L59.21,218.75 L56.90,221.06 L54.59,218.75 Z" fill="#14894a"/>
<path d="M70.70,226.92 L73.01,229.23 L70.70,231.54 L68.39,229.23 Z" fill="#14894a"/>
<path d="M86.50,243.40 L88.81,245.71 L86.50,248.02 L84.19,245.71 Z" fill="#14894a"/>
<path d="M100.00,258.49 L102.31,260.80 L100.00,263.11 L97.69,260.80 Z" fill="#14894a"/>
<path d="M116.00,266.83 L118.31,269.14 L116.00,271.45 L113.69,269.14 Z" fill="#14894a"/>
<path d="M129.60,275.93 L131.91,278.24 L129.60,280.55 L127.29,278.24 Z" fill="#14894a"/>
<path d="M145.10,282.46 L147.41,284.77 L145.10,287.08 L142.79,284.77 Z" fill="#14894a"/>
<line x1="56.50" y1="212.11" x2="56.50" y2="214.25" stroke="#4a56a6" stroke-width="0.85" />
<line x1="54.20" y1="212.11" x2="58.80" y2="212.11" stroke="#4a56a6" stroke-width="0.85" />
<line x1="54.20" y1="214.25" x2="58.80" y2="214.25" stroke="#4a56a6" stroke-width="0.85" />
<line x1="70.50" y1="210.40" x2="70.50" y2="212.54" stroke="#4a56a6" stroke-width="0.85" />
<line x1="68.20" y1="210.40" x2="72.80" y2="210.40" stroke="#4a56a6" stroke-width="0.85" />
<line x1="68.20" y1="212.54" x2="72.80" y2="212.54" stroke="#4a56a6" stroke-width="0.85" />
<line x1="86.50" y1="215.97" x2="86.50" y2="219.18" stroke="#4a56a6" stroke-width="0.85" />
<line x1="84.20" y1="215.97" x2="88.80" y2="215.97" stroke="#4a56a6" stroke-width="0.85" />
<line x1="84.20" y1="219.18" x2="88.80" y2="219.18" stroke="#4a56a6" stroke-width="0.85" />
<line x1="100.50" y1="219.39" x2="100.50" y2="221.53" stroke="#4a56a6" stroke-width="0.85" />
<line x1="98.20" y1="219.39" x2="102.80" y2="219.39" stroke="#4a56a6" stroke-width="0.85" />
<line x1="98.20" y1="221.53" x2="102.80" y2="221.53" stroke="#4a56a6" stroke-width="0.85" />
<line x1="116.50" y1="221.53" x2="116.50" y2="224.74" stroke="#4a56a6" stroke-width="0.85" />
<line x1="114.20" y1="221.53" x2="118.80" y2="221.53" stroke="#4a56a6" stroke-width="0.85" />
<line x1="114.20" y1="224.74" x2="118.80" y2="224.74" stroke="#4a56a6" stroke-width="0.85" />
<line x1="129.50" y1="229.77" x2="129.50" y2="231.91" stroke="#4a56a6" stroke-width="0.85" />
<line x1="127.20" y1="229.77" x2="131.80" y2="229.77" stroke="#4a56a6" stroke-width="0.85" />
<line x1="127.20" y1="231.91" x2="131.80" y2="231.91" stroke="#4a56a6" stroke-width="0.85" />
<line x1="145.50" y1="234.69" x2="145.50" y2="236.83" stroke="#4a56a6" stroke-width="0.85" />
<line x1="143.20" y1="234.69" x2="147.80" y2="234.69" stroke="#4a56a6" stroke-width="0.85" />
<line x1="143.20" y1="236.83" x2="147.80" y2="236.83" stroke="#4a56a6" stroke-width="0.85" />
<path d="M41.30,211.90 L56.90,213.18 L70.70,211.47 L86.50,217.57 L100.00,220.46 L116.00,223.13 L129.60,230.84 L145.10,235.76" stroke="#4a56a6" stroke-width="1.2" fill="none" />
<path d="M56.90,210.32 L59.63,215.23 L54.17,215.23 Z" fill="#4a56a6"/>
<path d="M70.70,208.61 L73.43,213.52 L67.97,213.52 Z" fill="#4a56a6"/>
<path d="M86.50,214.70 L89.23,219.62 L83.77,219.62 Z" fill="#4a56a6"/>
<path d="M100.00,217.59 L102.73,222.51 L97.27,222.51 Z" fill="#4a56a6"/>
<path d="M116.00,220.27 L118.73,225.18 L113.27,225.18 Z" fill="#4a56a6"/>
<path d="M129.60,227.97 L132.33,232.89 L126.87,232.89 Z" fill="#4a56a6"/>
<path d="M145.10,232.89 L147.83,237.81 L142.37,237.81 Z" fill="#4a56a6"/>
<line x1="56.50" y1="206.76" x2="56.50" y2="209.97" stroke="#d9261e" stroke-width="0.85" />
<line x1="54.20" y1="206.76" x2="58.80" y2="206.76" stroke="#d9261e" stroke-width="0.85" />
<line x1="54.20" y1="209.97" x2="58.80" y2="209.97" stroke="#d9261e" stroke-width="0.85" />
<line x1="70.50" y1="204.41" x2="70.50" y2="209.76" stroke="#d9261e" stroke-width="0.85" />
<line x1="68.20" y1="204.41" x2="72.80" y2="204.41" stroke="#d9261e" stroke-width="0.85" />
<line x1="68.20" y1="209.76" x2="72.80" y2="209.76" stroke="#d9261e" stroke-width="0.85" />
<line x1="86.50" y1="208.48" x2="86.50" y2="212.76" stroke="#d9261e" stroke-width="0.85" />
<line x1="84.20" y1="208.48" x2="88.80" y2="208.48" stroke="#d9261e" stroke-width="0.85" />
<line x1="84.20" y1="212.76" x2="88.80" y2="212.76" stroke="#d9261e" stroke-width="0.85" />
<line x1="100.50" y1="207.73" x2="100.50" y2="213.08" stroke="#d9261e" stroke-width="0.85" />
<line x1="98.20" y1="207.73" x2="102.80" y2="207.73" stroke="#d9261e" stroke-width="0.85" />
<line x1="98.20" y1="213.08" x2="102.80" y2="213.08" stroke="#d9261e" stroke-width="0.85" />
<line x1="116.50" y1="209.44" x2="116.50" y2="216.93" stroke="#d9261e" stroke-width="0.85" />
<line x1="114.20" y1="209.44" x2="118.80" y2="209.44" stroke="#d9261e" stroke-width="0.85" />
<line x1="114.20" y1="216.93" x2="118.80" y2="216.93" stroke="#d9261e" stroke-width="0.85" />
<line x1="129.50" y1="216.61" x2="129.50" y2="227.31" stroke="#d9261e" stroke-width="0.85" />
<line x1="127.20" y1="216.61" x2="131.80" y2="216.61" stroke="#d9261e" stroke-width="0.85" />
<line x1="127.20" y1="227.31" x2="131.80" y2="227.31" stroke="#d9261e" stroke-width="0.85" />
<line x1="145.50" y1="223.13" x2="145.50" y2="225.27" stroke="#d9261e" stroke-width="0.85" />
<line x1="143.20" y1="223.13" x2="147.80" y2="223.13" stroke="#d9261e" stroke-width="0.85" />
<line x1="143.20" y1="225.27" x2="147.80" y2="225.27" stroke="#d9261e" stroke-width="0.85" />
<path d="M41.30,211.90 L56.90,208.37 L70.70,207.08 L86.50,210.62 L100.00,210.40 L116.00,213.18 L129.60,221.96 L145.10,224.20" stroke="#d9261e" stroke-width="1.2" fill="none" />
<circle cx="56.90" cy="208.37" r="2.3100000000000005" fill="#d9261e" stroke="none" stroke-width="0.5"/>
<circle cx="70.70" cy="207.08" r="2.3100000000000005" fill="#d9261e" stroke="none" stroke-width="0.5"/>
<circle cx="86.50" cy="210.62" r="2.3100000000000005" fill="#d9261e" stroke="none" stroke-width="0.5"/>
<circle cx="100.00" cy="210.40" r="2.3100000000000005" fill="#d9261e" stroke="none" stroke-width="0.5"/>
<circle cx="116.00" cy="213.18" r="2.3100000000000005" fill="#d9261e" stroke="none" stroke-width="0.5"/>
<circle cx="129.60" cy="221.96" r="2.3100000000000005" fill="#d9261e" stroke="none" stroke-width="0.5"/>
<circle cx="145.10" cy="224.20" r="2.3100000000000005" fill="#d9261e" stroke="none" stroke-width="0.5"/>
<line x1="56.50" y1="209.22" x2="56.50" y2="212.43" stroke="#231f20" stroke-width="0.85" />
<line x1="54.20" y1="209.22" x2="58.80" y2="209.22" stroke="#231f20" stroke-width="0.85" />
<line x1="54.20" y1="212.43" x2="58.80" y2="212.43" stroke="#231f20" stroke-width="0.85" />
<line x1="70.50" y1="209.55" x2="70.50" y2="217.25" stroke="#231f20" stroke-width="0.85" />
<line x1="68.20" y1="209.55" x2="72.80" y2="209.55" stroke="#231f20" stroke-width="0.85" />
<line x1="68.20" y1="217.25" x2="72.80" y2="217.25" stroke="#231f20" stroke-width="0.85" />
<line x1="86.50" y1="213.83" x2="86.50" y2="217.04" stroke="#231f20" stroke-width="0.85" />
<line x1="84.20" y1="213.83" x2="88.80" y2="213.83" stroke="#231f20" stroke-width="0.85" />
<line x1="84.20" y1="217.04" x2="88.80" y2="217.04" stroke="#231f20" stroke-width="0.85" />
<line x1="100.50" y1="219.60" x2="100.50" y2="222.17" stroke="#231f20" stroke-width="0.85" />
<line x1="98.20" y1="219.60" x2="102.80" y2="219.60" stroke="#231f20" stroke-width="0.85" />
<line x1="98.20" y1="222.17" x2="102.80" y2="222.17" stroke="#231f20" stroke-width="0.85" />
<line x1="116.50" y1="213.29" x2="116.50" y2="222.92" stroke="#231f20" stroke-width="0.85" />
<line x1="114.20" y1="213.29" x2="118.80" y2="213.29" stroke="#231f20" stroke-width="0.85" />
<line x1="114.20" y1="222.92" x2="118.80" y2="222.92" stroke="#231f20" stroke-width="0.85" />
<line x1="129.50" y1="215.00" x2="129.50" y2="227.84" stroke="#231f20" stroke-width="0.85" />
<line x1="127.20" y1="215.00" x2="131.80" y2="215.00" stroke="#231f20" stroke-width="0.85" />
<line x1="127.20" y1="227.84" x2="131.80" y2="227.84" stroke="#231f20" stroke-width="0.85" />
<line x1="145.50" y1="212.33" x2="145.50" y2="225.17" stroke="#231f20" stroke-width="0.85" />
<line x1="143.20" y1="212.33" x2="147.80" y2="212.33" stroke="#231f20" stroke-width="0.85" />
<line x1="143.20" y1="225.17" x2="147.80" y2="225.17" stroke="#231f20" stroke-width="0.85" />
<path d="M41.30,211.90 L56.90,210.83 L70.70,213.40 L86.50,215.43 L100.00,220.89 L116.00,218.11 L129.60,221.42 L145.10,218.75" stroke="#231f20" stroke-width="1.2" fill="none" />
<rect x="54.70" y="208.62" width="4.41" height="4.41" fill="#231f20" stroke="none" stroke-width="0.6"/>
<rect x="68.50" y="211.19" width="4.41" height="4.41" fill="#231f20" stroke="none" stroke-width="0.6"/>
<rect x="84.30" y="213.23" width="4.41" height="4.41" fill="#231f20" stroke="none" stroke-width="0.6"/>
<rect x="97.80" y="218.68" width="4.41" height="4.41" fill="#231f20" stroke="none" stroke-width="0.6"/>
<rect x="113.80" y="215.90" width="4.41" height="4.41" fill="#231f20" stroke="none" stroke-width="0.6"/>
<rect x="127.39" y="219.22" width="4.41" height="4.41" fill="#231f20" stroke="none" stroke-width="0.6"/>
<rect x="142.89" y="216.54" width="4.41" height="4.41" fill="#231f20" stroke="none" stroke-width="0.6"/>
<line x1="45.20" y1="272.20" x2="53.00" y2="272.20" stroke="#231f20" stroke-width="1.4" />
<rect x="46.75" y="269.85" width="4.70" height="4.70" fill="#231f20" stroke="none" stroke-width="0.6"/>
<text x="54.20" y="275.60" font-size="9.7" stroke="#231f20" stroke-width="0.18" >Wild type</text>
<line x1="45.20" y1="286.60" x2="53.00" y2="286.60" stroke="#d9261e" stroke-width="1.4" />
<circle cx="49.10" cy="286.60" r="2.4640000000000004" fill="#d9261e" stroke="none" stroke-width="0.5"/>
<text x="54.20" y="290.00" font-size="9.7" stroke="#231f20" stroke-width="0.18" ><tspan font-style="italic">Adh5</tspan><tspan dy="-3.9" font-size="7.4">−/−</tspan><tspan dy="3.9"></tspan></text>
<line x1="45.20" y1="299.30" x2="53.00" y2="299.30" stroke="#4a56a6" stroke-width="1.4" />
<path d="M49.10,296.24 L52.01,301.48 L46.19,301.48 Z" fill="#4a56a6"/>
<text x="54.20" y="302.70" font-size="9.7" stroke="#231f20" stroke-width="0.18" ><tspan font-style="italic">Fancd2</tspan><tspan dy="-3.9" font-size="7.4">−/−</tspan><tspan dy="3.9"></tspan></text>
<line x1="45.20" y1="311.80" x2="53.00" y2="311.80" stroke="#14894a" stroke-width="1.4" />
<path d="M49.10,309.34 L51.56,311.80 L49.10,314.26 L46.64,311.80 Z" fill="#14894a"/>
<text x="54.20" y="315.20" font-size="9.7" stroke="#231f20" stroke-width="0.18" ><tspan font-style="italic">Adh5</tspan><tspan dy="-3.9" font-size="7.4">−/−</tspan><tspan dy="3.9"></tspan><tspan font-style="italic">Fancd2</tspan><tspan dy="-3.9" font-size="7.4">−/−</tspan><tspan dy="3.9"></tspan></text>
<text x="157.00" y="173.80" font-size="15.6" fill="#000" font-weight="bold" stroke="#000" stroke-width="0.45" >d</text>
<g transform="translate(0,0)">
<path d="M194,190.6 C185,190.2 174,190.3 167.5,190.8 C163.5,191.3 163.6,194.3 166.5,196.8 C170,199.8 175,202.2 178.4,204.6" fill="none" stroke="#c98a95" stroke-width="2.9" stroke-linecap="round"/>
<path d="M194,190.6 C185,190.2 174,190.3 167.5,190.8 C163.5,191.3 163.6,194.3 166.5,196.8 C170,199.8 175,202.2 178.4,204.6" fill="none" stroke="#f4c9cf" stroke-width="1.9" stroke-linecap="round"/>
<path d="M192.8,190.8 C193.2,182.5 197,175.8 203.8,172.8 C210,170.2 217,170.6 221.6,172.6 C226,173.6 229.5,175.8 232.5,178.5 C235.5,181 238.6,183.2 240.7,184.9 C239.6,186.9 237.2,188.2 234.6,188.6 L231.2,190.4 C230.4,191.6 231.5,193 229.2,194.1 L225.8,194.1 C224.6,193.2 222.8,192.6 220.8,192.9 L206,193.3 C203.6,194.3 201,194.2 199.4,193.4 C196.8,192.9 194.4,192.2 192.8,190.8 Z" fill="#d8bc9e" stroke="#9a7e62" stroke-width="0.5"/>
<ellipse cx="224.6" cy="175.4" rx="3.4" ry="4.4" transform="rotate(-20 224.6 175.4)" fill="#d8bc9e" stroke="#9a7e62" stroke-width="0.5"/>
<path d="M223.8,176.5 C223.5,174.5 224.5,173 225.8,173.5" fill="none" stroke="#9a7e62" stroke-width="0.4"/>
<path d="M212,193 C213,189 216,186.5 219,187.5" fill="none" stroke="#9a7e62" stroke-width="0.4"/>
<circle cx="232.90" cy="181.50" r="1.2" fill="#3a2a20" stroke="none" stroke-width="0.5"/>
<circle cx="240.40" cy="184.90" r="0.6" fill="#b07a70" stroke="none" stroke-width="0.5"/>
</g>
<g transform="translate(198.9,189.2) rotate(-43.8) scale(0.94,1.22)">
<path d="M-12,-1.8 L12,-1.8 C12.6,-4.6 16.8,-4.8 16.9,-1.9 C19.4,-1.6 19.4,1.6 16.9,1.9 C16.8,4.8 12.6,4.6 12,1.8 L-12,1.8 C-12.6,4.6 -16.8,4.8 -16.9,1.9 C-19.4,1.6 -19.4,-1.6 -16.9,-1.9 C-16.8,-4.8 -12.6,-4.6 -12,-1.8 Z" fill="#f8f2c9" stroke="#3d3a2a" stroke-width="0.6"/>
</g>
<g transform="translate(0,79.4)">
<path d="M194,190.6 C185,190.2 174,190.3 167.5,190.8 C163.5,191.3 163.6,194.3 166.5,196.8 C170,199.8 175,202.2 178.4,204.6" fill="none" stroke="#c98a95" stroke-width="2.9" stroke-linecap="round"/>
<path d="M194,190.6 C185,190.2 174,190.3 167.5,190.8 C163.5,191.3 163.6,194.3 166.5,196.8 C170,199.8 175,202.2 178.4,204.6" fill="none" stroke="#f4c9cf" stroke-width="1.9" stroke-linecap="round"/>
<path d="M192.8,190.8 C193.2,182.5 197,175.8 203.8,172.8 C210,170.2 217,170.6 221.6,172.6 C226,173.6 229.5,175.8 232.5,178.5 C235.5,181 238.6,183.2 240.7,184.9 C239.6,186.9 237.2,188.2 234.6,188.6 L231.2,190.4 C230.4,191.6 231.5,193 229.2,194.1 L225.8,194.1 C224.6,193.2 222.8,192.6 220.8,192.9 L206,193.3 C203.6,194.3 201,194.2 199.4,193.4 C196.8,192.9 194.4,192.2 192.8,190.8 Z" fill="#d8bc9e" stroke="#9a7e62" stroke-width="0.5"/>
<ellipse cx="224.6" cy="175.4" rx="3.4" ry="4.4" transform="rotate(-20 224.6 175.4)" fill="#d8bc9e" stroke="#9a7e62" stroke-width="0.5"/>
<path d="M223.8,176.5 C223.5,174.5 224.5,173 225.8,173.5" fill="none" stroke="#9a7e62" stroke-width="0.4"/>
<path d="M212,193 C213,189 216,186.5 219,187.5" fill="none" stroke="#9a7e62" stroke-width="0.4"/>
<circle cx="232.90" cy="181.50" r="1.2" fill="#3a2a20" stroke="none" stroke-width="0.5"/>
<circle cx="240.40" cy="184.90" r="0.6" fill="#b07a70" stroke="none" stroke-width="0.5"/>
</g>
<path d="M205.4,245.7 L215.6,246.2 L209.4,252.2 L212.4,252.6 L200.2,263.0 L205.2,256.0 L201.6,255.2 Z" fill="#f8d320" stroke="#8a6a10" stroke-width="0.6"/>
<path d="M189.6,331.4 C189.6,329 190.5,327.6 192,327.4 C196,327 200,328.6 203,328.2 C208,327.6 211.5,326.5 214,325 C216.5,323.5 217.5,320.8 219.5,320.0 C222,319.3 224.6,320.5 224.6,323.0 C224.3,326.5 222,329 218.5,331.2 C214,334 208,336.2 201,337.6 C196,338.5 191.5,337.6 190.4,335.6 C189.8,334.5 189.6,333 189.6,331.4 Z" fill="#c83a2a" stroke="#7a1e14" stroke-width="0.8"/>
<circle cx="191.80" cy="329.30" r="1.5" fill="#f6d23a" stroke="#d29a1a" stroke-width="0.35"/>
<circle cx="196.40" cy="327.60" r="1.6" fill="#f6d23a" stroke="#d29a1a" stroke-width="0.35"/>
<circle cx="200.30" cy="330.70" r="1.6" fill="#f6d23a" stroke="#d29a1a" stroke-width="0.35"/>
<circle cx="195.00" cy="332.80" r="1.1" fill="#f6d23a" stroke="#d29a1a" stroke-width="0.35"/>
<circle cx="200.30" cy="336.00" r="1.3" fill="#f6d23a" stroke="#d29a1a" stroke-width="0.35"/>
<circle cx="207.80" cy="332.80" r="1.1" fill="#f6d23a" stroke="#d29a1a" stroke-width="0.35"/>
<circle cx="210.00" cy="334.00" r="0.9" fill="#f6d23a" stroke="#d29a1a" stroke-width="0.35"/>
<circle cx="217.50" cy="331.00" r="1.1" fill="#f6d23a" stroke="#d29a1a" stroke-width="0.35"/>
<circle cx="216.70" cy="323.60" r="1.4" fill="#f6d23a" stroke="#d29a1a" stroke-width="0.35"/>
<circle cx="220.20" cy="321.40" r="1.6" fill="#f6d23a" stroke="#d29a1a" stroke-width="0.35"/>
<circle cx="221.30" cy="323.80" r="1.2" fill="#f6d23a" stroke="#d29a1a" stroke-width="0.35"/>
<line x1="207.10" y1="197.60" x2="207.10" y2="204.52" stroke="#231f20" stroke-width="1.0" />
<path d="M207.10,208.20 L205.10,203.60 L209.10,203.60 Z" fill="#231f20"/>
<text x="172.60" y="216.40" font-size="9.5" stroke="#231f20" stroke-width="0.18" >4 h treatment of</text>
<text x="172.60" y="227.00" font-size="9.5" stroke="#231f20" stroke-width="0.18" >BM with THF/FA</text>
<line x1="207.10" y1="231.80" x2="207.10" y2="239.32" stroke="#231f20" stroke-width="1.0" />
<path d="M207.10,243.00 L205.10,238.40 L209.10,238.40 Z" fill="#231f20"/>
<text x="214.80" y="239.30" font-size="9.5" stroke="#231f20" stroke-width="0.18" >i.v.</text>
<text x="169.80" y="292.10" font-size="9.5" stroke="#231f20" stroke-width="0.18" >Lethally irradiated</text>
<text x="185.60" y="302.80" font-size="9.5" stroke="#231f20" stroke-width="0.18" >recipients</text>
<line x1="207.10" y1="306.80" x2="207.10" y2="313.72" stroke="#231f20" stroke-width="1.0" />
<path d="M207.10,317.40 L205.10,312.80 L209.10,312.80 Z" fill="#231f20"/>
<text x="213.40" y="315.00" font-size="9.5" stroke="#231f20" stroke-width="0.18" >10 days</text>
<text x="177.00" y="348.60" font-size="9.5" stroke="#231f20" stroke-width="0.18" >Quantification</text>
<text x="187.00" y="359.20" font-size="9.5" stroke="#231f20" stroke-width="0.18" >of CFU–S</text>
<line x1="288.20" y1="190.80" x2="288.20" y2="319.50" stroke="#231f20" stroke-width="0.8" />
<line x1="285.60" y1="318.30" x2="288.20" y2="318.30" stroke="#231f20" stroke-width="0.7" />
<line x1="286.70" y1="305.54" x2="288.20" y2="305.54" stroke="#231f20" stroke-width="0.7" />
<line x1="286.70" y1="298.07" x2="288.20" y2="298.07" stroke="#231f20" stroke-width="0.7" />
<line x1="286.70" y1="292.77" x2="288.20" y2="292.77" stroke="#231f20" stroke-width="0.7" />
<line x1="286.70" y1="288.66" x2="288.20" y2="288.66" stroke="#231f20" stroke-width="0.7" />
<line x1="286.70" y1="285.31" x2="288.20" y2="285.31" stroke="#231f20" stroke-width="0.7" />
<line x1="286.70" y1="282.47" x2="288.20" y2="282.47" stroke="#231f20" stroke-width="0.7" />
<line x1="286.70" y1="280.01" x2="288.20" y2="280.01" stroke="#231f20" stroke-width="0.7" />
<line x1="286.70" y1="277.84" x2="288.20" y2="277.84" stroke="#231f20" stroke-width="0.7" />
<line x1="285.60" y1="275.90" x2="288.20" y2="275.90" stroke="#231f20" stroke-width="0.7" />
<line x1="286.70" y1="263.14" x2="288.20" y2="263.14" stroke="#231f20" stroke-width="0.7" />
<line x1="286.70" y1="255.67" x2="288.20" y2="255.67" stroke="#231f20" stroke-width="0.7" />
<line x1="286.70" y1="250.37" x2="288.20" y2="250.37" stroke="#231f20" stroke-width="0.7" />
<line x1="286.70" y1="246.26" x2="288.20" y2="246.26" stroke="#231f20" stroke-width="0.7" />
<line x1="286.70" y1="242.91" x2="288.20" y2="242.91" stroke="#231f20" stroke-width="0.7" />
<line x1="286.70" y1="240.07" x2="288.20" y2="240.07" stroke="#231f20" stroke-width="0.7" />
<line x1="286.70" y1="237.61" x2="288.20" y2="237.61" stroke="#231f20" stroke-width="0.7" />
<line x1="286.70" y1="235.44" x2="288.20" y2="235.44" stroke="#231f20" stroke-width="0.7" />
<line x1="285.60" y1="233.50" x2="288.20" y2="233.50" stroke="#231f20" stroke-width="0.7" />
<line x1="286.70" y1="220.74" x2="288.20" y2="220.74" stroke="#231f20" stroke-width="0.7" />
<line x1="286.70" y1="213.27" x2="288.20" y2="213.27" stroke="#231f20" stroke-width="0.7" />
<line x1="286.70" y1="207.97" x2="288.20" y2="207.97" stroke="#231f20" stroke-width="0.7" />
<line x1="286.70" y1="203.86" x2="288.20" y2="203.86" stroke="#231f20" stroke-width="0.7" />
<line x1="286.70" y1="200.51" x2="288.20" y2="200.51" stroke="#231f20" stroke-width="0.7" />
<line x1="286.70" y1="197.67" x2="288.20" y2="197.67" stroke="#231f20" stroke-width="0.7" />
<line x1="286.70" y1="195.21" x2="288.20" y2="195.21" stroke="#231f20" stroke-width="0.7" />
<line x1="286.70" y1="193.04" x2="288.20" y2="193.04" stroke="#231f20" stroke-width="0.7" />
<line x1="285.60" y1="191.10" x2="288.20" y2="191.10" stroke="#231f20" stroke-width="0.7" />
<text x="283.60" y="194.40" font-size="9.35" text-anchor="end" stroke="#231f20" stroke-width="0.18" >100</text>
<text x="283.60" y="236.80" font-size="9.35" text-anchor="end" stroke="#231f20" stroke-width="0.18" >10</text>
<text x="283.60" y="279.20" font-size="9.35" text-anchor="end" stroke="#231f20" stroke-width="0.18" >1</text>
<text x="283.60" y="321.60" font-size="9.35" text-anchor="end" stroke="#231f20" stroke-width="0.18" >0.1</text>
<line x1="285.70" y1="319.10" x2="437.00" y2="319.10" stroke="#231f20" stroke-width="0.8" />
<line x1="298.10" y1="319.10" x2="298.10" y2="322.40" stroke="#231f20" stroke-width="0.8" />
<text x="298.10" y="332.60" font-size="9.35" text-anchor="middle" stroke="#231f20" stroke-width="0.18" >–</text>
<line x1="316.58" y1="319.10" x2="316.58" y2="322.40" stroke="#231f20" stroke-width="0.8" />
<text x="316.58" y="332.60" font-size="9.35" text-anchor="middle" stroke="#231f20" stroke-width="0.18" >+</text>
<line x1="335.06" y1="319.10" x2="335.06" y2="322.40" stroke="#231f20" stroke-width="0.8" />
<text x="335.06" y="332.60" font-size="9.35" text-anchor="middle" stroke="#231f20" stroke-width="0.18" >–</text>
<line x1="353.54" y1="319.10" x2="353.54" y2="322.40" stroke="#231f20" stroke-width="0.8" />
<text x="353.54" y="332.60" font-size="9.35" text-anchor="middle" stroke="#231f20" stroke-width="0.18" >+</text>
<line x1="372.02" y1="319.10" x2="372.02" y2="322.40" stroke="#231f20" stroke-width="0.8" />
<text x="372.02" y="332.60" font-size="9.35" text-anchor="middle" stroke="#231f20" stroke-width="0.18" >–</text>
<line x1="390.50" y1="319.10" x2="390.50" y2="322.40" stroke="#231f20" stroke-width="0.8" />
<text x="390.50" y="332.60" font-size="9.35" text-anchor="middle" stroke="#231f20" stroke-width="0.18" >+</text>
<line x1="408.98" y1="319.10" x2="408.98" y2="322.40" stroke="#231f20" stroke-width="0.8" />
<text x="408.98" y="332.60" font-size="9.35" text-anchor="middle" stroke="#231f20" stroke-width="0.18" >–</text>
<line x1="427.46" y1="319.10" x2="427.46" y2="322.40" stroke="#231f20" stroke-width="0.8" />
<text x="427.46" y="332.60" font-size="9.35" text-anchor="middle" stroke="#231f20" stroke-width="0.18" >+</text>
<text x="268.60" y="332.80" font-size="9.35" stroke="#231f20" stroke-width="0.18" >THF</text>
<line x1="289.60" y1="336.20" x2="323.70" y2="336.20" stroke="#6d6e71" stroke-width="1.7" />
<line x1="327.30" y1="336.20" x2="360.90" y2="336.20" stroke="#6d6e71" stroke-width="1.7" />
<line x1="364.70" y1="336.20" x2="398.00" y2="336.20" stroke="#6d6e71" stroke-width="1.7" />
<line x1="401.80" y1="336.20" x2="436.00" y2="336.20" stroke="#6d6e71" stroke-width="1.7" />
<text x="262.80" y="255.00" font-size="9.55" text-anchor="middle" transform="rotate(-90 262.80 255.00)" stroke="#231f20" stroke-width="0.18" >CFU-S per 10<tspan dy="-3.2" font-size="6.6">5</tspan><tspan dy="3.2"> nucleated BM cells</tspan></text>
<rect x="293.76" y="223.16" width="3.28" height="3.28" fill="#231f20" stroke="none" stroke-width="0.6"/>
<rect x="298.56" y="223.16" width="3.28" height="3.28" fill="#231f20" stroke="none" stroke-width="0.6"/>
<rect x="295.86" y="228.06" width="3.28" height="3.28" fill="#231f20" stroke="none" stroke-width="0.6"/>
<rect x="292.26" y="230.46" width="3.28" height="3.28" fill="#231f20" stroke="none" stroke-width="0.6"/>
<rect x="295.86" y="230.46" width="3.28" height="3.28" fill="#231f20" stroke="none" stroke-width="0.6"/>
<rect x="300.46" y="231.86" width="3.28" height="3.28" fill="#231f20" stroke="none" stroke-width="0.6"/>
<rect x="293.86" y="231.86" width="3.28" height="3.28" fill="#231f20" stroke="none" stroke-width="0.6"/>
<rect x="295.86" y="233.36" width="3.28" height="3.28" fill="#231f20" stroke="none" stroke-width="0.6"/>
<rect x="292.26" y="239.46" width="3.28" height="3.28" fill="#231f20" stroke="none" stroke-width="0.6"/>
<rect x="295.86" y="239.46" width="3.28" height="3.28" fill="#231f20" stroke="none" stroke-width="0.6"/>
<rect x="300.16" y="237.56" width="3.28" height="3.28" fill="#231f20" stroke="none" stroke-width="0.6"/>
<rect x="295.86" y="254.66" width="3.28" height="3.28" fill="#231f20" stroke="none" stroke-width="0.6"/>
<line x1="292.50" y1="233.50" x2="303.70" y2="233.50" stroke="#231f20" stroke-width="0.9" />
<line x1="298.10" y1="231.50" x2="298.10" y2="235.50" stroke="#231f20" stroke-width="0.8" />
<line x1="295.70" y1="231.50" x2="300.50" y2="231.50" stroke="#231f20" stroke-width="0.8" />
<line x1="295.70" y1="235.50" x2="300.50" y2="235.50" stroke="#231f20" stroke-width="0.8" />
<rect x="310.64" y="232.86" width="3.28" height="3.28" fill="#231f20" stroke="none" stroke-width="0.6"/>
<rect x="313.64" y="233.36" width="3.28" height="3.28" fill="#231f20" stroke="none" stroke-width="0.6"/>
<rect x="317.64" y="232.86" width="3.28" height="3.28" fill="#231f20" stroke="none" stroke-width="0.6"/>
<rect x="320.44" y="233.86" width="3.28" height="3.28" fill="#231f20" stroke="none" stroke-width="0.6"/>
<rect x="309.64" y="235.86" width="3.28" height="3.28" fill="#231f20" stroke="none" stroke-width="0.6"/>
<rect x="312.64" y="236.36" width="3.28" height="3.28" fill="#231f20" stroke="none" stroke-width="0.6"/>
<rect x="316.64" y="235.86" width="3.28" height="3.28" fill="#231f20" stroke="none" stroke-width="0.6"/>
<rect x="319.64" y="236.86" width="3.28" height="3.28" fill="#231f20" stroke="none" stroke-width="0.6"/>
<rect x="314.64" y="239.96" width="3.28" height="3.28" fill="#231f20" stroke="none" stroke-width="0.6"/>
<rect x="317.04" y="242.36" width="3.28" height="3.28" fill="#231f20" stroke="none" stroke-width="0.6"/>
<rect x="312.34" y="244.76" width="3.28" height="3.28" fill="#231f20" stroke="none" stroke-width="0.6"/>
<line x1="310.98" y1="237.80" x2="322.18" y2="237.80" stroke="#231f20" stroke-width="0.9" />
<line x1="316.58" y1="236.60" x2="316.58" y2="239.00" stroke="#231f20" stroke-width="0.8" />
<line x1="314.18" y1="236.60" x2="318.98" y2="236.60" stroke="#231f20" stroke-width="0.8" />
<line x1="314.18" y1="239.00" x2="318.98" y2="239.00" stroke="#231f20" stroke-width="0.8" />
<circle cx="334.76" cy="229.70" r="1.7160000000000002" fill="#d9261e" stroke="none" stroke-width="0.5"/>
<circle cx="332.36" cy="232.60" r="1.7160000000000002" fill="#d9261e" stroke="none" stroke-width="0.5"/>
<circle cx="337.16" cy="234.50" r="1.7160000000000002" fill="#d9261e" stroke="none" stroke-width="0.5"/>
<circle cx="330.66" cy="238.00" r="1.7160000000000002" fill="#d9261e" stroke="none" stroke-width="0.5"/>
<circle cx="333.66" cy="237.50" r="1.7160000000000002" fill="#d9261e" stroke="none" stroke-width="0.5"/>
<circle cx="336.16" cy="239.00" r="1.7160000000000002" fill="#d9261e" stroke="none" stroke-width="0.5"/>
<circle cx="338.66" cy="238.50" r="1.7160000000000002" fill="#d9261e" stroke="none" stroke-width="0.5"/>
<circle cx="334.76" cy="242.10" r="1.7160000000000002" fill="#d9261e" stroke="none" stroke-width="0.5"/>
<circle cx="334.76" cy="256.40" r="1.7160000000000002" fill="#d9261e" stroke="none" stroke-width="0.5"/>
<circle cx="334.76" cy="262.50" r="1.7160000000000002" fill="#d9261e" stroke="none" stroke-width="0.5"/>
<line x1="329.46" y1="238.30" x2="340.66" y2="238.30" stroke="#231f20" stroke-width="0.9" />
<line x1="335.06" y1="235.70" x2="335.06" y2="240.90" stroke="#231f20" stroke-width="0.8" />
<line x1="332.66" y1="235.70" x2="337.46" y2="235.70" stroke="#231f20" stroke-width="0.8" />
<line x1="332.66" y1="240.90" x2="337.46" y2="240.90" stroke="#231f20" stroke-width="0.8" />
<circle cx="349.54" cy="241.50" r="1.7160000000000002" fill="#d9261e" stroke="none" stroke-width="0.5"/>
<circle cx="352.04" cy="240.00" r="1.7160000000000002" fill="#d9261e" stroke="none" stroke-width="0.5"/>
<circle cx="355.04" cy="241.00" r="1.7160000000000002" fill="#d9261e" stroke="none" stroke-width="0.5"/>
<circle cx="358.04" cy="240.50" r="1.7160000000000002" fill="#d9261e" stroke="none" stroke-width="0.5"/>
<circle cx="350.54" cy="243.50" r="1.7160000000000002" fill="#d9261e" stroke="none" stroke-width="0.5"/>
<circle cx="353.04" cy="244.50" r="1.7160000000000002" fill="#d9261e" stroke="none" stroke-width="0.5"/>
<circle cx="356.04" cy="243.50" r="1.7160000000000002" fill="#d9261e" stroke="none" stroke-width="0.5"/>
<circle cx="352.04" cy="246.00" r="1.7160000000000002" fill="#d9261e" stroke="none" stroke-width="0.5"/>
<circle cx="354.54" cy="247.00" r="1.7160000000000002" fill="#d9261e" stroke="none" stroke-width="0.5"/>
<circle cx="355.54" cy="234.60" r="1.7160000000000002" fill="#d9261e" stroke="none" stroke-width="0.5"/>
<circle cx="350.04" cy="236.00" r="1.7160000000000002" fill="#d9261e" stroke="none" stroke-width="0.5"/>
<line x1="347.94" y1="242.00" x2="359.14" y2="242.00" stroke="#231f20" stroke-width="0.9" />
<line x1="353.54" y1="241.00" x2="353.54" y2="243.00" stroke="#231f20" stroke-width="0.8" />
<line x1="351.14" y1="241.00" x2="355.94" y2="241.00" stroke="#231f20" stroke-width="0.8" />
<line x1="351.14" y1="243.00" x2="355.94" y2="243.00" stroke="#231f20" stroke-width="0.8" />
<path d="M368.62,232.37 L370.65,236.02 L366.59,236.02 Z" fill="#4a56a6"/>
<path d="M374.42,233.37 L376.45,237.02 L372.39,237.02 Z" fill="#4a56a6"/>
<path d="M370.92,235.87 L372.95,239.52 L368.89,239.52 Z" fill="#4a56a6"/>
<path d="M372.92,237.87 L374.95,241.52 L370.89,241.52 Z" fill="#4a56a6"/>
<path d="M368.92,239.87 L370.95,243.52 L366.89,243.52 Z" fill="#4a56a6"/>
<path d="M373.92,241.37 L375.95,245.02 L371.89,245.02 Z" fill="#4a56a6"/>
<path d="M371.42,243.37 L373.45,247.02 L369.39,247.02 Z" fill="#4a56a6"/>
<path d="M368.42,244.87 L370.45,248.52 L366.39,248.52 Z" fill="#4a56a6"/>
<path d="M373.42,246.37 L375.45,250.02 L371.39,250.02 Z" fill="#4a56a6"/>
<path d="M370.92,254.87 L372.95,258.52 L368.89,258.52 Z" fill="#4a56a6"/>
<path d="M367.92,259.87 L369.95,263.52 L365.89,263.52 Z" fill="#4a56a6"/>
<path d="M371.92,259.87 L373.95,263.52 L369.89,263.52 Z" fill="#4a56a6"/>
<path d="M375.92,259.87 L377.95,263.52 L373.89,263.52 Z" fill="#4a56a6"/>
<line x1="366.42" y1="244.70" x2="377.62" y2="244.70" stroke="#231f20" stroke-width="0.9" />
<line x1="372.02" y1="242.90" x2="372.02" y2="246.50" stroke="#231f20" stroke-width="0.8" />
<line x1="369.62" y1="242.90" x2="374.42" y2="242.90" stroke="#231f20" stroke-width="0.8" />
<line x1="369.62" y1="246.50" x2="374.42" y2="246.50" stroke="#231f20" stroke-width="0.8" />
<path d="M393.50,242.37 L395.53,246.02 L391.47,246.02 Z" fill="#4a56a6"/>
<path d="M388.00,245.37 L390.03,249.02 L385.97,249.02 Z" fill="#4a56a6"/>
<path d="M391.00,246.87 L393.03,250.52 L388.97,250.52 Z" fill="#4a56a6"/>
<path d="M394.00,248.87 L396.03,252.52 L391.97,252.52 Z" fill="#4a56a6"/>
<path d="M387.50,249.87 L389.53,253.52 L385.47,253.52 Z" fill="#4a56a6"/>
<path d="M391.00,251.37 L393.03,255.02 L388.97,255.02 Z" fill="#4a56a6"/>
<path d="M394.50,252.87 L396.53,256.52 L392.47,256.52 Z" fill="#4a56a6"/>
<path d="M389.00,253.87 L391.03,257.52 L386.97,257.52 Z" fill="#4a56a6"/>
<path d="M392.00,255.87 L394.03,259.52 L389.97,259.52 Z" fill="#4a56a6"/>
<path d="M387.00,257.87 L389.03,261.52 L384.97,261.52 Z" fill="#4a56a6"/>
<path d="M392.50,260.37 L394.53,264.02 L390.47,264.02 Z" fill="#4a56a6"/>
<path d="M389.50,262.87 L391.53,266.52 L387.47,266.52 Z" fill="#4a56a6"/>
<path d="M392.00,265.87 L394.03,269.52 L389.97,269.52 Z" fill="#4a56a6"/>
<path d="M388.00,268.37 L390.03,272.02 L385.97,272.02 Z" fill="#4a56a6"/>
<line x1="384.90" y1="254.30" x2="396.10" y2="254.30" stroke="#231f20" stroke-width="0.9" />
<line x1="390.50" y1="252.50" x2="390.50" y2="256.10" stroke="#231f20" stroke-width="0.8" />
<line x1="388.10" y1="252.50" x2="392.90" y2="252.50" stroke="#231f20" stroke-width="0.8" />
<line x1="388.10" y1="256.10" x2="392.90" y2="256.10" stroke="#231f20" stroke-width="0.8" />
<path d="M406.48,233.78 L408.20,235.50 L406.48,237.22 L404.76,235.50 Z" fill="#14894a"/>
<path d="M409.98,234.28 L411.70,236.00 L409.98,237.72 L408.26,236.00 Z" fill="#14894a"/>
<path d="M411.98,236.28 L413.70,238.00 L411.98,239.72 L410.26,238.00 Z" fill="#14894a"/>
<path d="M406.98,237.78 L408.70,239.50 L406.98,241.22 L405.26,239.50 Z" fill="#14894a"/>
<path d="M410.48,239.28 L412.20,241.00 L410.48,242.72 L408.76,241.00 Z" fill="#14894a"/>
<path d="M412.98,241.28 L414.70,243.00 L412.98,244.72 L411.26,243.00 Z" fill="#14894a"/>
<path d="M405.98,242.28 L407.70,244.00 L405.98,245.72 L404.26,244.00 Z" fill="#14894a"/>
<path d="M408.98,243.78 L410.70,245.50 L408.98,247.22 L407.26,245.50 Z" fill="#14894a"/>
<path d="M411.98,245.28 L413.70,247.00 L411.98,248.72 L410.26,247.00 Z" fill="#14894a"/>
<path d="M407.48,246.78 L409.20,248.50 L407.48,250.22 L405.76,248.50 Z" fill="#14894a"/>
<path d="M410.98,248.28 L412.70,250.00 L410.98,251.72 L409.26,250.00 Z" fill="#14894a"/>
<line x1="403.38" y1="242.90" x2="414.58" y2="242.90" stroke="#231f20" stroke-width="0.9" />
<line x1="408.98" y1="241.50" x2="408.98" y2="244.30" stroke="#231f20" stroke-width="0.8" />
<line x1="406.58" y1="241.50" x2="411.38" y2="241.50" stroke="#231f20" stroke-width="0.8" />
<line x1="406.58" y1="244.30" x2="411.38" y2="244.30" stroke="#231f20" stroke-width="0.8" />
<path d="M428.96,249.28 L430.68,251.00 L428.96,252.72 L427.24,251.00 Z" fill="#14894a"/>
<path d="M425.96,251.78 L427.68,253.50 L425.96,255.22 L424.24,253.50 Z" fill="#14894a"/>
<path d="M429.46,254.28 L431.18,256.00 L429.46,257.72 L427.74,256.00 Z" fill="#14894a"/>
<path d="M424.46,256.28 L426.18,258.00 L424.46,259.72 L422.74,258.00 Z" fill="#14894a"/>
<path d="M427.96,258.28 L429.68,260.00 L427.96,261.72 L426.24,260.00 Z" fill="#14894a"/>
<path d="M430.96,260.28 L432.68,262.00 L430.96,263.72 L429.24,262.00 Z" fill="#14894a"/>
<path d="M424.96,262.28 L426.68,264.00 L424.96,265.72 L423.24,264.00 Z" fill="#14894a"/>
<path d="M427.96,264.28 L429.68,266.00 L427.96,267.72 L426.24,266.00 Z" fill="#14894a"/>
<path d="M430.96,266.28 L432.68,268.00 L430.96,269.72 L429.24,268.00 Z" fill="#14894a"/>
<path d="M424.96,268.28 L426.68,270.00 L424.96,271.72 L423.24,270.00 Z" fill="#14894a"/>
<path d="M427.96,272.28 L429.68,274.00 L427.96,275.72 L426.24,274.00 Z" fill="#14894a"/>
<path d="M430.96,274.28 L432.68,276.00 L430.96,277.72 L429.24,276.00 Z" fill="#14894a"/>
<path d="M423.96,279.28 L425.68,281.00 L423.96,282.72 L422.24,281.00 Z" fill="#14894a"/>
<path d="M427.96,281.28 L429.68,283.00 L427.96,284.72 L426.24,283.00 Z" fill="#14894a"/>
<path d="M423.46,292.28 L425.18,294.00 L423.46,295.72 L421.74,294.00 Z" fill="#14894a"/>
<path d="M427.46,292.28 L429.18,294.00 L427.46,295.72 L425.74,294.00 Z" fill="#14894a"/>
<path d="M431.46,292.28 L433.18,294.00 L431.46,295.72 L429.74,294.00 Z" fill="#14894a"/>
<line x1="421.86" y1="266.60" x2="433.06" y2="266.60" stroke="#231f20" stroke-width="0.9" />
<line x1="427.46" y1="263.60" x2="427.46" y2="269.60" stroke="#231f20" stroke-width="0.8" />
<line x1="425.06" y1="263.60" x2="429.86" y2="263.60" stroke="#231f20" stroke-width="0.8" />
<line x1="425.06" y1="269.60" x2="429.86" y2="269.60" stroke="#231f20" stroke-width="0.8" />
<path d="M371.40,220.60 L371.40,216.80 L391.30,216.80 L391.30,220.60" stroke="#231f20" stroke-width="0.8" fill="none" />
<text x="381.35" y="214.10" font-size="9.8" text-anchor="middle" stroke="#231f20" stroke-width="0.18" >**</text>
<path d="M390.20,200.90 L390.20,197.10 L427.50,197.10 L427.50,200.90" stroke="#231f20" stroke-width="0.8" fill="none" />
<text x="408.85" y="194.60" font-size="9.8" text-anchor="middle" stroke="#231f20" stroke-width="0.18" >***</text>
<path d="M408.70,221.00 L408.70,217.30 L428.40,217.30 L428.40,221.00" stroke="#231f20" stroke-width="0.8" fill="none" />
<text x="418.55" y="214.10" font-size="9.8" text-anchor="middle" stroke="#231f20" stroke-width="0.18" >****</text>
<line x1="479.10" y1="190.90" x2="479.10" y2="319.50" stroke="#231f20" stroke-width="0.8" />
<line x1="476.50" y1="318.70" x2="479.10" y2="318.70" stroke="#231f20" stroke-width="0.7" />
<line x1="477.60" y1="305.91" x2="479.10" y2="305.91" stroke="#231f20" stroke-width="0.7" />
<line x1="477.60" y1="298.42" x2="479.10" y2="298.42" stroke="#231f20" stroke-width="0.7" />
<line x1="477.60" y1="293.11" x2="479.10" y2="293.11" stroke="#231f20" stroke-width="0.7" />
<line x1="477.60" y1="288.99" x2="479.10" y2="288.99" stroke="#231f20" stroke-width="0.7" />
<line x1="477.60" y1="285.63" x2="479.10" y2="285.63" stroke="#231f20" stroke-width="0.7" />
<line x1="477.60" y1="282.78" x2="479.10" y2="282.78" stroke="#231f20" stroke-width="0.7" />
<line x1="477.60" y1="280.32" x2="479.10" y2="280.32" stroke="#231f20" stroke-width="0.7" />
<line x1="477.60" y1="278.14" x2="479.10" y2="278.14" stroke="#231f20" stroke-width="0.7" />
<line x1="476.50" y1="276.20" x2="479.10" y2="276.20" stroke="#231f20" stroke-width="0.7" />
<line x1="477.60" y1="263.41" x2="479.10" y2="263.41" stroke="#231f20" stroke-width="0.7" />
<line x1="477.60" y1="255.92" x2="479.10" y2="255.92" stroke="#231f20" stroke-width="0.7" />
<line x1="477.60" y1="250.61" x2="479.10" y2="250.61" stroke="#231f20" stroke-width="0.7" />
<line x1="477.60" y1="246.49" x2="479.10" y2="246.49" stroke="#231f20" stroke-width="0.7" />
<line x1="477.60" y1="243.13" x2="479.10" y2="243.13" stroke="#231f20" stroke-width="0.7" />
<line x1="477.60" y1="240.28" x2="479.10" y2="240.28" stroke="#231f20" stroke-width="0.7" />
<line x1="477.60" y1="237.82" x2="479.10" y2="237.82" stroke="#231f20" stroke-width="0.7" />
<line x1="477.60" y1="235.64" x2="479.10" y2="235.64" stroke="#231f20" stroke-width="0.7" />
<line x1="476.50" y1="233.70" x2="479.10" y2="233.70" stroke="#231f20" stroke-width="0.7" />
<line x1="477.60" y1="220.91" x2="479.10" y2="220.91" stroke="#231f20" stroke-width="0.7" />
<line x1="477.60" y1="213.42" x2="479.10" y2="213.42" stroke="#231f20" stroke-width="0.7" />
<line x1="477.60" y1="208.11" x2="479.10" y2="208.11" stroke="#231f20" stroke-width="0.7" />
<line x1="477.60" y1="203.99" x2="479.10" y2="203.99" stroke="#231f20" stroke-width="0.7" />
<line x1="477.60" y1="200.63" x2="479.10" y2="200.63" stroke="#231f20" stroke-width="0.7" />
<line x1="477.60" y1="197.78" x2="479.10" y2="197.78" stroke="#231f20" stroke-width="0.7" />
<line x1="477.60" y1="195.32" x2="479.10" y2="195.32" stroke="#231f20" stroke-width="0.7" />
<line x1="477.60" y1="193.14" x2="479.10" y2="193.14" stroke="#231f20" stroke-width="0.7" />
<line x1="476.50" y1="191.20" x2="479.10" y2="191.20" stroke="#231f20" stroke-width="0.7" />
<text x="474.60" y="194.50" font-size="9.35" text-anchor="end" stroke="#231f20" stroke-width="0.18" >100</text>
<text x="474.60" y="237.00" font-size="9.35" text-anchor="end" stroke="#231f20" stroke-width="0.18" >10</text>
<text x="474.60" y="279.50" font-size="9.35" text-anchor="end" stroke="#231f20" stroke-width="0.18" >1</text>
<text x="474.60" y="322.00" font-size="9.35" text-anchor="end" stroke="#231f20" stroke-width="0.18" >0.1</text>
<line x1="476.60" y1="319.10" x2="628.00" y2="319.10" stroke="#231f20" stroke-width="0.8" />
<line x1="488.90" y1="319.10" x2="488.90" y2="322.40" stroke="#231f20" stroke-width="0.8" />
<text x="488.90" y="332.60" font-size="9.35" text-anchor="middle" stroke="#231f20" stroke-width="0.18" >–</text>
<line x1="507.38" y1="319.10" x2="507.38" y2="322.40" stroke="#231f20" stroke-width="0.8" />
<text x="507.38" y="332.60" font-size="9.35" text-anchor="middle" stroke="#231f20" stroke-width="0.18" >+</text>
<line x1="525.86" y1="319.10" x2="525.86" y2="322.40" stroke="#231f20" stroke-width="0.8" />
<text x="525.86" y="332.60" font-size="9.35" text-anchor="middle" stroke="#231f20" stroke-width="0.18" >–</text>
<line x1="544.34" y1="319.10" x2="544.34" y2="322.40" stroke="#231f20" stroke-width="0.8" />
<text x="544.34" y="332.60" font-size="9.35" text-anchor="middle" stroke="#231f20" stroke-width="0.18" >+</text>
<line x1="562.82" y1="319.10" x2="562.82" y2="322.40" stroke="#231f20" stroke-width="0.8" />
<text x="562.82" y="332.60" font-size="9.35" text-anchor="middle" stroke="#231f20" stroke-width="0.18" >–</text>
<line x1="581.30" y1="319.10" x2="581.30" y2="322.40" stroke="#231f20" stroke-width="0.8" />
<text x="581.30" y="332.60" font-size="9.35" text-anchor="middle" stroke="#231f20" stroke-width="0.18" >+</text>
<line x1="599.78" y1="319.10" x2="599.78" y2="322.40" stroke="#231f20" stroke-width="0.8" />
<text x="599.78" y="332.60" font-size="9.35" text-anchor="middle" stroke="#231f20" stroke-width="0.18" >–</text>
<line x1="618.26" y1="319.10" x2="618.26" y2="322.40" stroke="#231f20" stroke-width="0.8" />
<text x="618.26" y="332.60" font-size="9.35" text-anchor="middle" stroke="#231f20" stroke-width="0.18" >+</text>
<text x="461.60" y="332.80" font-size="9.35" stroke="#231f20" stroke-width="0.18" >FA</text>
<line x1="480.90" y1="336.20" x2="514.60" y2="336.20" stroke="#6d6e71" stroke-width="1.7" />
<line x1="518.30" y1="336.20" x2="552.00" y2="336.20" stroke="#6d6e71" stroke-width="1.7" />
<line x1="555.60" y1="336.20" x2="589.00" y2="336.20" stroke="#6d6e71" stroke-width="1.7" />
<line x1="592.60" y1="336.20" x2="627.00" y2="336.20" stroke="#6d6e71" stroke-width="1.7" />
<text x="453.60" y="255.00" font-size="9.55" text-anchor="middle" transform="rotate(-90 453.60 255.00)" stroke="#231f20" stroke-width="0.18" >CFU-S per 10<tspan dy="-3.2" font-size="6.6">5</tspan><tspan dy="3.2"> nucleated BM cells</tspan></text>
<rect x="482.86" y="222.86" width="3.28" height="3.28" fill="#231f20" stroke="none" stroke-width="0.6"/>
<rect x="485.36" y="222.86" width="3.28" height="3.28" fill="#231f20" stroke="none" stroke-width="0.6"/>
<rect x="487.86" y="222.86" width="3.28" height="3.28" fill="#231f20" stroke="none" stroke-width="0.6"/>
<rect x="490.36" y="222.86" width="3.28" height="3.28" fill="#231f20" stroke="none" stroke-width="0.6"/>
<rect x="492.36" y="222.86" width="3.28" height="3.28" fill="#231f20" stroke="none" stroke-width="0.6"/>
<rect x="483.36" y="225.86" width="3.28" height="3.28" fill="#231f20" stroke="none" stroke-width="0.6"/>
<rect x="486.36" y="225.86" width="3.28" height="3.28" fill="#231f20" stroke="none" stroke-width="0.6"/>
<rect x="490.36" y="225.86" width="3.28" height="3.28" fill="#231f20" stroke="none" stroke-width="0.6"/>
<rect x="482.86" y="229.36" width="3.28" height="3.28" fill="#231f20" stroke="none" stroke-width="0.6"/>
<rect x="485.86" y="229.86" width="3.28" height="3.28" fill="#231f20" stroke="none" stroke-width="0.6"/>
<rect x="491.36" y="229.36" width="3.28" height="3.28" fill="#231f20" stroke="none" stroke-width="0.6"/>
<rect x="483.36" y="232.86" width="3.28" height="3.28" fill="#231f20" stroke="none" stroke-width="0.6"/>
<rect x="487.36" y="233.36" width="3.28" height="3.28" fill="#231f20" stroke="none" stroke-width="0.6"/>
<rect x="491.36" y="232.36" width="3.28" height="3.28" fill="#231f20" stroke="none" stroke-width="0.6"/>
<rect x="482.86" y="236.36" width="3.28" height="3.28" fill="#231f20" stroke="none" stroke-width="0.6"/>
<rect x="485.36" y="236.86" width="3.28" height="3.28" fill="#231f20" stroke="none" stroke-width="0.6"/>
<rect x="489.36" y="236.36" width="3.28" height="3.28" fill="#231f20" stroke="none" stroke-width="0.6"/>
<rect x="492.36" y="237.86" width="3.28" height="3.28" fill="#231f20" stroke="none" stroke-width="0.6"/>
<rect x="484.86" y="239.36" width="3.28" height="3.28" fill="#231f20" stroke="none" stroke-width="0.6"/>
<rect x="488.36" y="239.86" width="3.28" height="3.28" fill="#231f20" stroke="none" stroke-width="0.6"/>
<rect x="487.86" y="245.16" width="3.28" height="3.28" fill="#231f20" stroke="none" stroke-width="0.6"/>
<rect x="487.26" y="261.96" width="3.28" height="3.28" fill="#231f20" stroke="none" stroke-width="0.6"/>
<line x1="483.30" y1="233.00" x2="494.50" y2="233.00" stroke="#231f20" stroke-width="0.9" />
<line x1="488.90" y1="231.20" x2="488.90" y2="234.80" stroke="#231f20" stroke-width="0.8" />
<line x1="486.50" y1="231.20" x2="491.30" y2="231.20" stroke="#231f20" stroke-width="0.8" />
<line x1="486.50" y1="234.80" x2="491.30" y2="234.80" stroke="#231f20" stroke-width="0.8" />
<rect x="502.64" y="237.36" width="3.28" height="3.28" fill="#231f20" stroke="none" stroke-width="0.6"/>
<rect x="505.64" y="237.86" width="3.28" height="3.28" fill="#231f20" stroke="none" stroke-width="0.6"/>
<rect x="508.64" y="237.36" width="3.28" height="3.28" fill="#231f20" stroke="none" stroke-width="0.6"/>
<rect x="504.14" y="239.86" width="3.28" height="3.28" fill="#231f20" stroke="none" stroke-width="0.6"/>
<rect x="507.14" y="239.86" width="3.28" height="3.28" fill="#231f20" stroke="none" stroke-width="0.6"/>
<rect x="502.64" y="249.36" width="3.28" height="3.28" fill="#231f20" stroke="none" stroke-width="0.6"/>
<rect x="506.14" y="249.36" width="3.28" height="3.28" fill="#231f20" stroke="none" stroke-width="0.6"/>
<rect x="509.14" y="249.36" width="3.28" height="3.28" fill="#231f20" stroke="none" stroke-width="0.6"/>
<rect x="505.74" y="261.96" width="3.28" height="3.28" fill="#231f20" stroke="none" stroke-width="0.6"/>
<line x1="501.78" y1="245.70" x2="512.98" y2="245.70" stroke="#231f20" stroke-width="0.9" />
<line x1="507.38" y1="243.30" x2="507.38" y2="248.10" stroke="#231f20" stroke-width="0.8" />
<line x1="504.98" y1="243.30" x2="509.78" y2="243.30" stroke="#231f20" stroke-width="0.8" />
<line x1="504.98" y1="248.10" x2="509.78" y2="248.10" stroke="#231f20" stroke-width="0.8" />
<circle cx="527.36" cy="226.50" r="1.7160000000000002" fill="#d9261e" stroke="none" stroke-width="0.5"/>
<circle cx="522.86" cy="231.00" r="1.7160000000000002" fill="#d9261e" stroke="none" stroke-width="0.5"/>
<circle cx="528.36" cy="231.50" r="1.7160000000000002" fill="#d9261e" stroke="none" stroke-width="0.5"/>
<circle cx="524.36" cy="235.00" r="1.7160000000000002" fill="#d9261e" stroke="none" stroke-width="0.5"/>
<circle cx="526.36" cy="237.50" r="1.7160000000000002" fill="#d9261e" stroke="none" stroke-width="0.5"/>
<circle cx="529.36" cy="239.50" r="1.7160000000000002" fill="#d9261e" stroke="none" stroke-width="0.5"/>
<circle cx="522.36" cy="239.50" r="1.7160000000000002" fill="#d9261e" stroke="none" stroke-width="0.5"/>
<circle cx="525.36" cy="241.50" r="1.7160000000000002" fill="#d9261e" stroke="none" stroke-width="0.5"/>
<circle cx="522.86" cy="246.50" r="1.7160000000000002" fill="#d9261e" stroke="none" stroke-width="0.5"/>
<circle cx="528.36" cy="246.50" r="1.7160000000000002" fill="#d9261e" stroke="none" stroke-width="0.5"/>
<circle cx="525.36" cy="251.00" r="1.7160000000000002" fill="#d9261e" stroke="none" stroke-width="0.5"/>
<circle cx="522.86" cy="256.50" r="1.7160000000000002" fill="#d9261e" stroke="none" stroke-width="0.5"/>
<circle cx="528.36" cy="256.50" r="1.7160000000000002" fill="#d9261e" stroke="none" stroke-width="0.5"/>
<line x1="520.26" y1="239.00" x2="531.46" y2="239.00" stroke="#231f20" stroke-width="0.9" />
<line x1="525.86" y1="236.80" x2="525.86" y2="241.20" stroke="#231f20" stroke-width="0.8" />
<line x1="523.46" y1="236.80" x2="528.26" y2="236.80" stroke="#231f20" stroke-width="0.8" />
<line x1="523.46" y1="241.20" x2="528.26" y2="241.20" stroke="#231f20" stroke-width="0.8" />
<circle cx="540.64" cy="234.00" r="1.7160000000000002" fill="#d9261e" stroke="none" stroke-width="0.5"/>
<circle cx="543.64" cy="233.50" r="1.7160000000000002" fill="#d9261e" stroke="none" stroke-width="0.5"/>
<circle cx="546.64" cy="233.80" r="1.7160000000000002" fill="#d9261e" stroke="none" stroke-width="0.5"/>
<circle cx="542.14" cy="236.00" r="1.7160000000000002" fill="#d9261e" stroke="none" stroke-width="0.5"/>
<circle cx="545.14" cy="236.50" r="1.7160000000000002" fill="#d9261e" stroke="none" stroke-width="0.5"/>
<circle cx="547.64" cy="236.00" r="1.7160000000000002" fill="#d9261e" stroke="none" stroke-width="0.5"/>
<circle cx="540.64" cy="238.00" r="1.7160000000000002" fill="#d9261e" stroke="none" stroke-width="0.5"/>
<circle cx="544.14" cy="238.50" r="1.7160000000000002" fill="#d9261e" stroke="none" stroke-width="0.5"/>
<circle cx="546.64" cy="238.00" r="1.7160000000000002" fill="#d9261e" stroke="none" stroke-width="0.5"/>
<circle cx="545.64" cy="242.00" r="1.7160000000000002" fill="#d9261e" stroke="none" stroke-width="0.5"/>
<circle cx="541.64" cy="246.50" r="1.7160000000000002" fill="#d9261e" stroke="none" stroke-width="0.5"/>
<line x1="538.74" y1="236.50" x2="549.94" y2="236.50" stroke="#231f20" stroke-width="0.9" />
<line x1="544.34" y1="235.50" x2="544.34" y2="237.50" stroke="#231f20" stroke-width="0.8" />
<line x1="541.94" y1="235.50" x2="546.74" y2="235.50" stroke="#231f20" stroke-width="0.8" />
<line x1="541.94" y1="237.50" x2="546.74" y2="237.50" stroke="#231f20" stroke-width="0.8" />
<path d="M565.42,226.87 L567.45,230.52 L563.39,230.52 Z" fill="#4a56a6"/>
<path d="M560.42,229.87 L562.45,233.52 L558.39,233.52 Z" fill="#4a56a6"/>
<path d="M563.42,230.87 L565.45,234.52 L561.39,234.52 Z" fill="#4a56a6"/>
<path d="M559.92,233.87 L561.95,237.52 L557.89,237.52 Z" fill="#4a56a6"/>
<path d="M565.42,234.87 L567.45,238.52 L563.39,238.52 Z" fill="#4a56a6"/>
<path d="M561.42,237.37 L563.45,241.02 L559.39,241.02 Z" fill="#4a56a6"/>
<path d="M564.42,238.37 L566.45,242.02 L562.39,242.02 Z" fill="#4a56a6"/>
<path d="M560.42,240.87 L562.45,244.52 L558.39,244.52 Z" fill="#4a56a6"/>
<path d="M563.92,242.37 L565.95,246.02 L561.89,246.02 Z" fill="#4a56a6"/>
<path d="M561.92,245.37 L563.95,249.02 L559.89,249.02 Z" fill="#4a56a6"/>
<path d="M564.92,248.37 L566.95,252.02 L562.89,252.02 Z" fill="#4a56a6"/>
<path d="M561.42,255.37 L563.45,259.02 L559.39,259.02 Z" fill="#4a56a6"/>
<path d="M566.42,254.37 L568.45,258.02 L564.39,258.02 Z" fill="#4a56a6"/>
<line x1="557.22" y1="239.20" x2="568.42" y2="239.20" stroke="#231f20" stroke-width="0.9" />
<line x1="562.82" y1="237.00" x2="562.82" y2="241.40" stroke="#231f20" stroke-width="0.8" />
<line x1="560.42" y1="237.00" x2="565.22" y2="237.00" stroke="#231f20" stroke-width="0.8" />
<line x1="560.42" y1="241.40" x2="565.22" y2="241.40" stroke="#231f20" stroke-width="0.8" />
<path d="M577.80,245.87 L579.83,249.52 L575.77,249.52 Z" fill="#4a56a6"/>
<path d="M580.30,244.87 L582.33,248.52 L578.27,248.52 Z" fill="#4a56a6"/>
<path d="M583.30,245.87 L585.33,249.52 L581.27,249.52 Z" fill="#4a56a6"/>
<path d="M585.30,247.37 L587.33,251.02 L583.27,251.02 Z" fill="#4a56a6"/>
<path d="M578.30,248.37 L580.33,252.02 L576.27,252.02 Z" fill="#4a56a6"/>
<path d="M581.30,249.37 L583.33,253.02 L579.27,253.02 Z" fill="#4a56a6"/>
<path d="M584.30,249.87 L586.33,253.52 L582.27,253.52 Z" fill="#4a56a6"/>
<path d="M579.30,251.87 L581.33,255.52 L577.27,255.52 Z" fill="#4a56a6"/>
<path d="M582.30,252.87 L584.33,256.52 L580.27,256.52 Z" fill="#4a56a6"/>
<path d="M580.80,255.37 L582.83,259.02 L578.77,259.02 Z" fill="#4a56a6"/>
<path d="M583.80,254.87 L585.83,258.52 L581.77,258.52 Z" fill="#4a56a6"/>
<line x1="575.70" y1="251.90" x2="586.90" y2="251.90" stroke="#231f20" stroke-width="0.9" />
<line x1="581.30" y1="251.00" x2="581.30" y2="252.80" stroke="#231f20" stroke-width="0.8" />
<line x1="578.90" y1="251.00" x2="583.70" y2="251.00" stroke="#231f20" stroke-width="0.8" />
<line x1="578.90" y1="252.80" x2="583.70" y2="252.80" stroke="#231f20" stroke-width="0.8" />
<path d="M593.88,231.28 L595.60,233.00 L593.88,234.72 L592.16,233.00 Z" fill="#14894a"/>
<path d="M605.08,231.28 L606.80,233.00 L605.08,234.72 L603.36,233.00 Z" fill="#14894a"/>
<path d="M598.08,235.28 L599.80,237.00 L598.08,238.72 L596.36,237.00 Z" fill="#14894a"/>
<path d="M601.08,237.28 L602.80,239.00 L601.08,240.72 L599.36,239.00 Z" fill="#14894a"/>
<path d="M596.08,239.78 L597.80,241.50 L596.08,243.22 L594.36,241.50 Z" fill="#14894a"/>
<path d="M600.08,240.28 L601.80,242.00 L600.08,243.72 L598.36,242.00 Z" fill="#14894a"/>
<path d="M603.08,240.78 L604.80,242.50 L603.08,244.22 L601.36,242.50 Z" fill="#14894a"/>
<path d="M597.08,242.78 L598.80,244.50 L597.08,246.22 L595.36,244.50 Z" fill="#14894a"/>
<path d="M600.08,244.28 L601.80,246.00 L600.08,247.72 L598.36,246.00 Z" fill="#14894a"/>
<path d="M603.08,243.28 L604.80,245.00 L603.08,246.72 L601.36,245.00 Z" fill="#14894a"/>
<path d="M599.08,246.28 L600.80,248.00 L599.08,249.72 L597.36,248.00 Z" fill="#14894a"/>
<path d="M599.58,254.28 L601.30,256.00 L599.58,257.72 L597.86,256.00 Z" fill="#14894a"/>
<path d="M599.58,274.68 L601.30,276.40 L599.58,278.12 L597.86,276.40 Z" fill="#14894a"/>
<line x1="594.18" y1="242.90" x2="605.38" y2="242.90" stroke="#231f20" stroke-width="0.9" />
<line x1="599.78" y1="240.70" x2="599.78" y2="245.10" stroke="#231f20" stroke-width="0.8" />
<line x1="597.38" y1="240.70" x2="602.18" y2="240.70" stroke="#231f20" stroke-width="0.8" />
<line x1="597.38" y1="245.10" x2="602.18" y2="245.10" stroke="#231f20" stroke-width="0.8" />
<path d="M618.26,261.58 L619.98,263.30 L618.26,265.02 L616.54,263.30 Z" fill="#14894a"/>
<path d="M615.46,270.28 L617.18,272.00 L615.46,273.72 L613.74,272.00 Z" fill="#14894a"/>
<path d="M620.96,270.28 L622.68,272.00 L620.96,273.72 L619.24,272.00 Z" fill="#14894a"/>
<path d="M616.96,274.28 L618.68,276.00 L616.96,277.72 L615.24,276.00 Z" fill="#14894a"/>
<path d="M619.96,275.28 L621.68,277.00 L619.96,278.72 L618.24,277.00 Z" fill="#14894a"/>
<path d="M614.96,280.28 L616.68,282.00 L614.96,283.72 L613.24,282.00 Z" fill="#14894a"/>
<path d="M617.96,281.28 L619.68,283.00 L617.96,284.72 L616.24,283.00 Z" fill="#14894a"/>
<path d="M620.96,281.28 L622.68,283.00 L620.96,284.72 L619.24,283.00 Z" fill="#14894a"/>
<path d="M616.46,283.28 L618.18,285.00 L616.46,286.72 L614.74,285.00 Z" fill="#14894a"/>
<path d="M619.96,283.28 L621.68,285.00 L619.96,286.72 L618.24,285.00 Z" fill="#14894a"/>
<line x1="612.66" y1="278.60" x2="623.86" y2="278.60" stroke="#231f20" stroke-width="0.9" />
<line x1="618.26" y1="275.80" x2="618.26" y2="281.40" stroke="#231f20" stroke-width="0.8" />
<line x1="615.86" y1="275.80" x2="620.66" y2="275.80" stroke="#231f20" stroke-width="0.8" />
<line x1="615.86" y1="281.40" x2="620.66" y2="281.40" stroke="#231f20" stroke-width="0.8" />
<path d="M562.40,220.60 L562.40,216.80 L582.60,216.80 L582.60,220.60" stroke="#231f20" stroke-width="0.8" fill="none" />
<text x="572.50" y="214.10" font-size="9.8" text-anchor="middle" stroke="#231f20" stroke-width="0.18" >****</text>
<path d="M581.00,201.10 L581.00,197.10 L618.70,197.10 L618.70,201.10" stroke="#231f20" stroke-width="0.8" fill="none" />
<text x="599.85" y="194.60" font-size="9.8" text-anchor="middle" stroke="#231f20" stroke-width="0.18" >****</text>
<path d="M600.10,221.00 L600.10,217.30 L619.40,217.30 L619.40,221.00" stroke="#231f20" stroke-width="0.8" fill="none" />
<text x="609.75" y="214.10" font-size="9.8" text-anchor="middle" stroke="#231f20" stroke-width="0.18" >****</text>
<text x="314.25" y="343.50" font-size="9.35" text-anchor="end" transform="rotate(-45 314.25 343.50)" stroke="#231f20" stroke-width="0.18" >Wild type</text>
<text x="355.40" y="345.60" font-size="9.35" text-anchor="end" transform="rotate(-45 355.40 345.60)" stroke="#231f20" stroke-width="0.18" ><tspan font-style="italic">Adh5</tspan><tspan dy="-3.9" font-size="7.4">−/−</tspan><tspan dy="3.9"></tspan></text>
<text x="390.45" y="343.50" font-size="9.35" text-anchor="end" transform="rotate(-45 390.45 343.50)" stroke="#231f20" stroke-width="0.18" ><tspan font-style="italic">Fancd2</tspan><tspan dy="-3.9" font-size="7.4">−/−</tspan><tspan dy="3.9"></tspan></text>
<text x="425.50" y="346.20" font-size="9.35" text-anchor="end" transform="rotate(-45 425.50 346.20)" stroke="#231f20" stroke-width="0.18" ><tspan font-style="italic">Adh5</tspan><tspan dy="-3.9" font-size="7.4">+/−</tspan><tspan dy="3.9"></tspan></text>
<text x="435.40" y="355.70" font-size="9.35" text-anchor="end" transform="rotate(-45 435.40 355.70)" stroke="#231f20" stroke-width="0.18" ><tspan font-style="italic">Fancd2</tspan><tspan dy="-3.9" font-size="7.4">−/−</tspan><tspan dy="3.9"></tspan></text>
<text x="502.55" y="344.40" font-size="9.35" text-anchor="end" transform="rotate(-45 502.55 344.40)" stroke="#231f20" stroke-width="0.18" >Wild type</text>
<text x="543.75" y="346.50" font-size="9.35" text-anchor="end" transform="rotate(-45 543.75 346.50)" stroke="#231f20" stroke-width="0.18" ><tspan font-style="italic">Adh5</tspan><tspan dy="-3.9" font-size="7.4">−/−</tspan><tspan dy="3.9"></tspan></text>
<text x="579.10" y="346.60" font-size="9.35" text-anchor="end" transform="rotate(-45 579.10 346.60)" stroke="#231f20" stroke-width="0.18" ><tspan font-style="italic">Fancd2</tspan><tspan dy="-3.9" font-size="7.4">−/−</tspan><tspan dy="3.9"></tspan></text>
<text x="611.90" y="347.00" font-size="9.35" text-anchor="end" transform="rotate(-45 611.90 347.00)" stroke="#231f20" stroke-width="0.18" ><tspan font-style="italic">Adh5</tspan><tspan dy="-3.9" font-size="7.4">+/−</tspan><tspan dy="3.9"></tspan></text>
<text x="622.10" y="356.70" font-size="9.35" text-anchor="end" transform="rotate(-45 622.10 356.70)" stroke="#231f20" stroke-width="0.18" ><tspan font-style="italic">Fancd2</tspan><tspan dy="-3.9" font-size="7.4">−/−</tspan><tspan dy="3.9"></tspan></text>
<text x="-0.80" y="396.60" font-size="15.6" fill="#000" font-weight="bold" stroke="#000" stroke-width="0.45" >e</text>
<text x="40.20" y="397.80" font-size="9.35" stroke="#231f20" stroke-width="0.18" >Genetic inactivation of one-carbon cycle</text>
<text x="81.60" y="411.80" font-size="9.6" fill="#2a1214" font-weight="bold" stroke="#2a1214" stroke-width="0.18" >FPGS</text>
<line x1="81.40" y1="409.40" x2="107.00" y2="409.40" stroke="#9e1b27" stroke-width="1.6" />
<text x="39.80" y="420.60" font-size="9.35" stroke="#231f20" stroke-width="0.18" >mTHF</text>
<text x="35.00" y="431.10" font-size="9.35" stroke="#231f20" stroke-width="0.18" >(inactive)</text>
<line x1="70.40" y1="418.40" x2="113.80" y2="418.40" stroke="#8a8c8e" stroke-width="0.9" />
<path d="M118.60,418.40 L112.60,420.70 L112.60,416.10 Z" fill="#8a8c8e"/>
<line x1="90.40" y1="414.60" x2="98.80" y2="422.60" stroke="#d2232a" stroke-width="1.6" />
<line x1="98.80" y1="414.60" x2="90.40" y2="422.60" stroke="#d2232a" stroke-width="1.6" />
<text x="122.20" y="420.60" font-size="9.35" fill="#a7a9ac" stroke="#a7a9ac" stroke-width="0.18" >pTHF</text>
<text x="119.40" y="431.10" font-size="9.35" fill="#a7a9ac" stroke="#a7a9ac" stroke-width="0.18" >(active)</text>
<line x1="149.90" y1="418.40" x2="167.40" y2="418.40" stroke="#8a8c8e" stroke-width="0.9" />
<path d="M172.20,418.40 L166.20,420.70 L166.20,416.10 Z" fill="#8a8c8e"/>
<text x="176.00" y="420.60" font-size="9.35" fill="#a7a9ac" stroke="#a7a9ac" stroke-width="0.18" >1C cycle</text>
<rect x="24.90" y="447.30" width="11.20" height="7.40" fill="#000" stroke="#231f20" stroke-width="0.6"/>
<text x="40.60" y="454.80" font-size="9.35" stroke="#231f20" stroke-width="0.18" >+Gly +HT</text>
<rect x="24.90" y="462.30" width="11.20" height="7.40" fill="#f0a01c" stroke="#231f20" stroke-width="0.6"/>
<text x="40.60" y="469.80" font-size="9.35" stroke="#231f20" stroke-width="0.18" >–Gly +HT</text>
<rect x="89.20" y="447.30" width="11.20" height="7.40" fill="#e8321f" stroke="#231f20" stroke-width="0.6"/>
<text x="104.90" y="454.80" font-size="9.35" stroke="#231f20" stroke-width="0.18" >+Gly –HT</text>
<rect x="89.20" y="462.00" width="11.20" height="7.40" fill="#8e1b1b" stroke="#231f20" stroke-width="0.6"/>
<text x="104.90" y="469.50" font-size="9.35" stroke="#231f20" stroke-width="0.18" >+Gly –HT + formate 400 µM</text>
<rect x="89.20" y="476.00" width="11.20" height="7.40" fill="#f5b5b9" stroke="#231f20" stroke-width="0.6"/>
<text x="104.90" y="483.50" font-size="9.35" stroke="#231f20" stroke-width="0.18" >+Gly –HT + THF 20 µM</text>
<line x1="35.20" y1="490.45" x2="35.20" y2="622.10" stroke="#231f20" stroke-width="0.8" />
<line x1="32.70" y1="621.70" x2="35.20" y2="621.70" stroke="#231f20" stroke-width="0.8" />
<text x="30.50" y="625.00" font-size="9.35" text-anchor="end" stroke="#231f20" stroke-width="0.18" >0</text>
<line x1="32.70" y1="602.95" x2="35.20" y2="602.95" stroke="#231f20" stroke-width="0.8" />
<text x="30.50" y="606.25" font-size="9.35" text-anchor="end" stroke="#231f20" stroke-width="0.18" >20</text>
<line x1="32.70" y1="584.20" x2="35.20" y2="584.20" stroke="#231f20" stroke-width="0.8" />
<text x="30.50" y="587.50" font-size="9.35" text-anchor="end" stroke="#231f20" stroke-width="0.18" >40</text>
<line x1="32.70" y1="565.45" x2="35.20" y2="565.45" stroke="#231f20" stroke-width="0.8" />
<text x="30.50" y="568.75" font-size="9.35" text-anchor="end" stroke="#231f20" stroke-width="0.18" >60</text>
<line x1="32.70" y1="546.70" x2="35.20" y2="546.70" stroke="#231f20" stroke-width="0.8" />
<text x="30.50" y="550.00" font-size="9.35" text-anchor="end" stroke="#231f20" stroke-width="0.18" >80</text>
<line x1="32.70" y1="527.95" x2="35.20" y2="527.95" stroke="#231f20" stroke-width="0.8" />
<text x="30.50" y="531.25" font-size="9.35" text-anchor="end" stroke="#231f20" stroke-width="0.18" >100</text>
<line x1="32.70" y1="509.20" x2="35.20" y2="509.20" stroke="#231f20" stroke-width="0.8" />
<text x="30.50" y="512.50" font-size="9.35" text-anchor="end" stroke="#231f20" stroke-width="0.18" >120</text>
<line x1="32.70" y1="490.45" x2="35.20" y2="490.45" stroke="#231f20" stroke-width="0.8" />
<text x="30.50" y="493.75" font-size="9.35" text-anchor="end" stroke="#231f20" stroke-width="0.18" >140</text>
<line x1="34.80" y1="621.80" x2="232.40" y2="621.80" stroke="#231f20" stroke-width="0.8" />
<rect x="39.06" y="527.95" width="5.80" height="93.85" fill="#000" stroke="none" stroke-width="0.55"/>
<line x1="41.96" y1="526.08" x2="41.96" y2="527.95" stroke="#231f20" stroke-width="0.8" />
<line x1="40.16" y1="526.08" x2="43.76" y2="526.08" stroke="#231f20" stroke-width="0.8" />
<rect x="47.88" y="523.26" width="5.80" height="98.54" fill="#f0a01c" stroke="#231f20" stroke-width="0.55"/>
<line x1="50.78" y1="520.45" x2="50.78" y2="523.26" stroke="#231f20" stroke-width="0.8" />
<line x1="48.98" y1="520.45" x2="52.58" y2="520.45" stroke="#231f20" stroke-width="0.8" />
<rect x="56.70" y="517.64" width="5.80" height="104.16" fill="#e8321f" stroke="#231f20" stroke-width="0.55"/>
<line x1="59.60" y1="508.26" x2="59.60" y2="517.64" stroke="#231f20" stroke-width="0.8" />
<line x1="57.80" y1="508.26" x2="61.40" y2="508.26" stroke="#231f20" stroke-width="0.8" />
<rect x="65.52" y="502.64" width="5.80" height="119.16" fill="#8e1b1b" stroke="#231f20" stroke-width="0.55"/>
<line x1="68.42" y1="496.08" x2="68.42" y2="502.64" stroke="#231f20" stroke-width="0.8" />
<line x1="66.62" y1="496.08" x2="70.22" y2="496.08" stroke="#231f20" stroke-width="0.8" />
<rect x="74.34" y="527.95" width="5.80" height="93.85" fill="#f5b5b9" stroke="#231f20" stroke-width="0.55"/>
<line x1="77.24" y1="515.76" x2="77.24" y2="527.95" stroke="#231f20" stroke-width="0.8" />
<line x1="75.44" y1="515.76" x2="79.04" y2="515.76" stroke="#231f20" stroke-width="0.8" />
<line x1="59.60" y1="621.80" x2="59.60" y2="625.40" stroke="#231f20" stroke-width="0.8" />
<line x1="84.40" y1="490.20" x2="84.40" y2="621.80" stroke="#231f20" stroke-width="0.8" stroke-dasharray="2 1.6"/>
<rect x="88.46" y="527.95" width="5.80" height="93.85" fill="#000" stroke="none" stroke-width="0.55"/>
<line x1="91.36" y1="527.01" x2="91.36" y2="527.95" stroke="#231f20" stroke-width="0.8" />
<line x1="89.56" y1="527.01" x2="93.16" y2="527.01" stroke="#231f20" stroke-width="0.8" />
<rect x="97.28" y="522.33" width="5.80" height="99.47" fill="#f0a01c" stroke="#231f20" stroke-width="0.55"/>
<line x1="100.18" y1="521.86" x2="100.18" y2="522.33" stroke="#231f20" stroke-width="0.8" />
<line x1="98.38" y1="521.86" x2="101.98" y2="521.86" stroke="#231f20" stroke-width="0.8" />
<rect x="106.10" y="527.48" width="5.80" height="94.32" fill="#e8321f" stroke="#231f20" stroke-width="0.55"/>
<line x1="109.00" y1="518.58" x2="109.00" y2="527.48" stroke="#231f20" stroke-width="0.8" />
<line x1="107.20" y1="518.58" x2="110.80" y2="518.58" stroke="#231f20" stroke-width="0.8" />
<rect x="114.92" y="512.01" width="5.80" height="109.79" fill="#8e1b1b" stroke="#231f20" stroke-width="0.55"/>
<line x1="117.82" y1="503.58" x2="117.82" y2="512.01" stroke="#231f20" stroke-width="0.8" />
<line x1="116.02" y1="503.58" x2="119.62" y2="503.58" stroke="#231f20" stroke-width="0.8" />
<rect x="123.74" y="586.08" width="5.80" height="35.72" fill="#f5b5b9" stroke="#231f20" stroke-width="0.55"/>
<line x1="126.64" y1="576.70" x2="126.64" y2="586.08" stroke="#231f20" stroke-width="0.8" />
<line x1="124.84" y1="576.70" x2="128.44" y2="576.70" stroke="#231f20" stroke-width="0.8" />
<line x1="109.00" y1="621.80" x2="109.00" y2="625.40" stroke="#231f20" stroke-width="0.8" />
<line x1="133.80" y1="490.20" x2="133.80" y2="621.80" stroke="#231f20" stroke-width="0.8" stroke-dasharray="2 1.6"/>
<rect x="137.86" y="527.95" width="5.80" height="93.85" fill="#000" stroke="none" stroke-width="0.55"/>
<line x1="140.76" y1="526.54" x2="140.76" y2="527.95" stroke="#231f20" stroke-width="0.8" />
<line x1="138.96" y1="526.54" x2="142.56" y2="526.54" stroke="#231f20" stroke-width="0.8" />
<rect x="146.68" y="621.42" width="5.80" height="0.38" fill="#f0a01c" stroke="#231f20" stroke-width="0.55"/>
<rect x="155.50" y="621.42" width="5.80" height="0.38" fill="#e8321f" stroke="#231f20" stroke-width="0.55"/>
<rect x="164.32" y="620.29" width="5.80" height="1.51" fill="#8e1b1b" stroke="#231f20" stroke-width="0.55"/>
<line x1="167.22" y1="619.36" x2="167.22" y2="620.29" stroke="#231f20" stroke-width="0.8" />
<line x1="165.42" y1="619.36" x2="169.02" y2="619.36" stroke="#231f20" stroke-width="0.8" />
<rect x="173.14" y="618.89" width="5.80" height="2.91" fill="#f5b5b9" stroke="#231f20" stroke-width="0.55"/>
<line x1="176.04" y1="616.54" x2="176.04" y2="618.89" stroke="#231f20" stroke-width="0.8" />
<line x1="174.24" y1="616.54" x2="177.84" y2="616.54" stroke="#231f20" stroke-width="0.8" />
<line x1="158.40" y1="621.80" x2="158.40" y2="625.40" stroke="#231f20" stroke-width="0.8" />
<line x1="183.20" y1="490.20" x2="183.20" y2="621.80" stroke="#231f20" stroke-width="0.8" stroke-dasharray="2 1.6"/>
<rect x="187.26" y="527.95" width="5.80" height="93.85" fill="#000" stroke="none" stroke-width="0.55"/>
<line x1="190.16" y1="512.95" x2="190.16" y2="527.95" stroke="#231f20" stroke-width="0.8" />
<line x1="188.36" y1="512.95" x2="191.96" y2="512.95" stroke="#231f20" stroke-width="0.8" />
<rect x="196.08" y="621.42" width="5.80" height="0.38" fill="#f0a01c" stroke="#231f20" stroke-width="0.55"/>
<rect x="204.90" y="621.42" width="5.80" height="0.38" fill="#e8321f" stroke="#231f20" stroke-width="0.55"/>
<rect x="213.72" y="621.42" width="5.80" height="0.38" fill="#8e1b1b" stroke="#231f20" stroke-width="0.55"/>
<rect x="222.54" y="620.58" width="5.80" height="1.22" fill="#f5b5b9" stroke="#231f20" stroke-width="0.55"/>
<line x1="207.80" y1="621.80" x2="207.80" y2="625.40" stroke="#231f20" stroke-width="0.8" />
<text x="62.40" y="632.00" font-size="9.35" text-anchor="end" transform="rotate(-45 62.40 632.00)" stroke="#231f20" stroke-width="0.18" >Wild type</text>
<text x="112.00" y="632.00" font-size="9.35" text-anchor="end" transform="rotate(-45 112.00 632.00)" stroke="#231f20" stroke-width="0.18" >Δ<tspan font-style="italic">ADH5</tspan></text>
<text x="161.40" y="632.00" font-size="9.35" text-anchor="end" transform="rotate(-45 161.40 632.00)" stroke="#231f20" stroke-width="0.18" >Δ<tspan font-style="italic">FPGS</tspan></text>
<text x="210.80" y="636.60" font-size="9.35" text-anchor="end" transform="rotate(-45 210.80 636.60)" stroke="#231f20" stroke-width="0.18" >Δ<tspan font-style="italic">ADH5</tspan>;Δ<tspan font-style="italic">FPGS</tspan></text>
<text x="7.80" y="553.80" font-size="9.6" text-anchor="middle" transform="rotate(-90 7.80 553.80)" stroke="#231f20" stroke-width="0.18" >Cell growth (% of +Gly +HT)</text>
<text x="230.40" y="396.80" font-size="15.6" fill="#000" font-weight="bold" stroke="#000" stroke-width="0.45" >f</text>
<text x="297.60" y="398.30" font-size="9.35" stroke="#231f20" stroke-width="0.18" >[U-<tspan dy="-3.2" font-size="6.8">13</tspan><tspan dy="3.2">C]serine tracing</tspan></text>
<text x="240.00" y="408.30" font-size="9.35" stroke="#231f20" stroke-width="0.18" >Serine</text>
<circle cx="248.60" cy="414.20" r="1.95" fill="#c8281e" stroke="#4a1510" stroke-width="0.6"/>
<circle cx="252.50" cy="414.20" r="1.95" fill="#c8281e" stroke="#4a1510" stroke-width="0.6"/>
<circle cx="256.60" cy="414.20" r="1.95" fill="#c8281e" stroke="#4a1510" stroke-width="0.6"/>
<circle cx="302.30" cy="414.20" r="1.9" fill="#cbcccc" stroke="#3a3a3c" stroke-width="0.6"/>
<text x="305.40" y="417.00" font-size="9.35" stroke="#231f20" stroke-width="0.18" ><tspan dy="-3.2" font-size="6.8">12</tspan><tspan dy="3.2">C</tspan></text>
<circle cx="302.30" cy="427.30" r="1.95" fill="#c8281e" stroke="#4a1510" stroke-width="0.6"/>
<text x="305.40" y="430.40" font-size="9.35" stroke="#231f20" stroke-width="0.18" ><tspan dy="-3.2" font-size="6.8">13</tspan><tspan dy="3.2">C</tspan></text>
<line x1="253.20" y1="419.20" x2="253.20" y2="465.28" stroke="#231f20" stroke-width="0.8" />
<path d="M253.20,468.80 L251.30,464.40 L255.10,464.40 Z" fill="#231f20"/>
<path d="M266.5,422.3 C258,422.5 253.6,426.5 253.6,432.6 C253.6,439 258.5,443.3 264.5,444.0" stroke="#231f20" stroke-width="0.8" fill="none" />
<path d="M267.60,444.30 L263.05,445.81 L263.38,442.02 Z" fill="#231f20"/>
<text x="269.60" y="424.70" font-size="9.35" stroke="#231f20" stroke-width="0.18" >THF</text>
<text x="268.40" y="447.40" font-size="9.35" stroke="#231f20" stroke-width="0.18" >5,10-me-THF</text>
<circle cx="295.50" cy="453.80" r="1.95" fill="#c8281e" stroke="#4a1510" stroke-width="0.6"/>
<line x1="295.50" y1="457.60" x2="295.50" y2="465.28" stroke="#231f20" stroke-width="0.8" />
<path d="M295.50,468.80 L293.60,464.40 L297.40,464.40 Z" fill="#231f20"/>
<text x="237.60" y="479.30" font-size="9.35" stroke="#231f20" stroke-width="0.18" >Glycine</text>
<text x="278.00" y="479.30" font-size="9.35" stroke="#231f20" stroke-width="0.18" >Formate</text>
<circle cx="251.60" cy="485.40" r="1.95" fill="#c8281e" stroke="#4a1510" stroke-width="0.6"/>
<circle cx="255.80" cy="485.40" r="1.95" fill="#c8281e" stroke="#4a1510" stroke-width="0.6"/>
<circle cx="295.50" cy="485.40" r="1.95" fill="#c8281e" stroke="#4a1510" stroke-width="0.6"/>
<line x1="295.50" y1="489.80" x2="295.50" y2="498.08" stroke="#231f20" stroke-width="0.8" />
<path d="M295.50,501.60 L293.60,497.20 L297.40,497.20 Z" fill="#231f20"/>
<text x="265.20" y="511.00" font-size="9.35" stroke="#231f20" stroke-width="0.18" >10-formyl-THF</text>
<circle cx="295.50" cy="516.40" r="1.95" fill="#c8281e" stroke="#4a1510" stroke-width="0.6"/>
<path d="M253.2,490.8 L253.2,521.0 C253.2,524 254.5,526.3 256.0,527.3" stroke="#231f20" stroke-width="0.8" fill="none" />
<path d="M258.00,528.80 L253.41,527.43 L255.85,524.52 Z" fill="#231f20"/>
<path d="M295.5,520.6 C295.5,523.8 294.5,525.8 292.6,527.0" stroke="#231f20" stroke-width="0.8" fill="none" />
<path d="M290.60,528.60 L293.11,524.52 L295.29,527.63 Z" fill="#231f20"/>
<text x="257.40" y="538.90" font-size="9.35" stroke="#231f20" stroke-width="0.18" >Adenine</text>
<circle cx="265.80" cy="545.80" r="2.15" fill="#cbcccc" stroke="#3a3a3c" stroke-width="0.6"/>
<circle cx="270.00" cy="545.80" r="2.15" fill="#c8281e" stroke="#4a1510" stroke-width="0.6"/>
<circle cx="274.30" cy="545.80" r="2.15" fill="#c8281e" stroke="#4a1510" stroke-width="0.6"/>
<circle cx="278.50" cy="545.80" r="2.15" fill="#c8281e" stroke="#4a1510" stroke-width="0.6"/>
<circle cx="282.80" cy="545.80" r="2.15" fill="#c8281e" stroke="#4a1510" stroke-width="0.6"/>
<text x="287.40" y="549.10" font-size="9.35" stroke="#231f20" stroke-width="0.18" >M+4</text>
<circle cx="265.80" cy="555.70" r="2.15" fill="#cbcccc" stroke="#3a3a3c" stroke-width="0.6"/>
<circle cx="270.00" cy="555.70" r="2.15" fill="#cbcccc" stroke="#3a3a3c" stroke-width="0.6"/>
<circle cx="274.30" cy="555.70" r="2.15" fill="#c8281e" stroke="#4a1510" stroke-width="0.6"/>
<circle cx="278.50" cy="555.70" r="2.15" fill="#c8281e" stroke="#4a1510" stroke-width="0.6"/>
<circle cx="282.80" cy="555.70" r="2.15" fill="#c8281e" stroke="#4a1510" stroke-width="0.6"/>
<text x="287.40" y="559.00" font-size="9.35" stroke="#231f20" stroke-width="0.18" >M+3</text>
<circle cx="265.80" cy="565.50" r="2.15" fill="#cbcccc" stroke="#3a3a3c" stroke-width="0.6"/>
<circle cx="270.00" cy="565.50" r="2.15" fill="#cbcccc" stroke="#3a3a3c" stroke-width="0.6"/>
<circle cx="274.30" cy="565.50" r="2.15" fill="#cbcccc" stroke="#3a3a3c" stroke-width="0.6"/>
<circle cx="278.50" cy="565.50" r="2.15" fill="#c8281e" stroke="#4a1510" stroke-width="0.6"/>
<circle cx="282.80" cy="565.50" r="2.15" fill="#c8281e" stroke="#4a1510" stroke-width="0.6"/>
<text x="287.40" y="568.80" font-size="9.35" stroke="#231f20" stroke-width="0.18" >M+2</text>
<circle cx="265.80" cy="575.60" r="2.15" fill="#cbcccc" stroke="#3a3a3c" stroke-width="0.6"/>
<circle cx="270.00" cy="575.60" r="2.15" fill="#cbcccc" stroke="#3a3a3c" stroke-width="0.6"/>
<circle cx="274.30" cy="575.60" r="2.15" fill="#cbcccc" stroke="#3a3a3c" stroke-width="0.6"/>
<circle cx="278.50" cy="575.60" r="2.15" fill="#cbcccc" stroke="#3a3a3c" stroke-width="0.6"/>
<circle cx="282.80" cy="575.60" r="2.15" fill="#c8281e" stroke="#4a1510" stroke-width="0.6"/>
<text x="287.40" y="578.90" font-size="9.35" stroke="#231f20" stroke-width="0.18" >M+1</text>
<circle cx="265.80" cy="585.60" r="2.15" fill="#cbcccc" stroke="#3a3a3c" stroke-width="0.6"/>
<circle cx="270.00" cy="585.60" r="2.15" fill="#cbcccc" stroke="#3a3a3c" stroke-width="0.6"/>
<circle cx="274.30" cy="585.60" r="2.15" fill="#cbcccc" stroke="#3a3a3c" stroke-width="0.6"/>
<circle cx="278.50" cy="585.60" r="2.15" fill="#cbcccc" stroke="#3a3a3c" stroke-width="0.6"/>
<circle cx="282.80" cy="585.60" r="2.15" fill="#cbcccc" stroke="#3a3a3c" stroke-width="0.6"/>
<text x="287.40" y="588.90" font-size="9.35" stroke="#231f20" stroke-width="0.18" >M+0</text>
<text x="256.60" y="607.50" font-size="9.35" stroke="#231f20" stroke-width="0.18" >NH</text>
<text x="270.00" y="610.40" font-size="6.8" stroke="#231f20" stroke-width="0.18" >2</text>
<line x1="262.70" y1="609.50" x2="262.70" y2="617.60" stroke="#231f20" stroke-width="0.7" />
<circle cx="262.70" cy="619.80" r="1.7" fill="#cbcccc" stroke="#3a3a3c" stroke-width="0.6"/>
<rect x="270.6" y="623.3" width="9.6" height="24.6" rx="3.5" fill="none" stroke="#808285" stroke-width="0.6"/>
<circle cx="275.30" cy="628.00" r="2.0" fill="#c8281e" stroke="#4a1510" stroke-width="0.6"/>
<circle cx="275.30" cy="643.10" r="2.0" fill="#c8281e" stroke="#4a1510" stroke-width="0.6"/>
<line x1="274.40" y1="631.20" x2="274.40" y2="640.00" stroke="#231f20" stroke-width="0.8" />
<line x1="276.20" y1="631.20" x2="276.20" y2="640.00" stroke="#231f20" stroke-width="0.8" />
<line x1="264.40" y1="621.00" x2="273.00" y2="626.00" stroke="#231f20" stroke-width="0.8" />
<text x="285.60" y="626.60" font-size="9.0" stroke="#231f20" stroke-width="0.18" >N</text>
<line x1="277.50" y1="626.60" x2="285.60" y2="623.80" stroke="#231f20" stroke-width="0.8" />
<line x1="290.20" y1="627.00" x2="297.20" y2="634.40" stroke="#231f20" stroke-width="0.8" />
<line x1="291.60" y1="625.70" x2="298.40" y2="633.00" stroke="#231f20" stroke-width="0.8" />
<circle cx="299.00" cy="636.00" r="2.0" fill="#c8281e" stroke="#4a1510" stroke-width="0.6"/>
<line x1="297.20" y1="638.00" x2="292.60" y2="644.60" stroke="#231f20" stroke-width="0.8" />
<text x="286.20" y="651.20" font-size="9.0" stroke="#231f20" stroke-width="0.18" >N</text>
<line x1="277.60" y1="644.00" x2="286.20" y2="647.30" stroke="#231f20" stroke-width="0.8" />
<line x1="290.00" y1="652.40" x2="290.80" y2="658.20" stroke="#231f20" stroke-width="0.8" />
<text x="277.60" y="667.00" font-size="9.35" stroke="#231f20" stroke-width="0.18" >Ribose-PPP</text>
<line x1="273.00" y1="645.20" x2="265.60" y2="649.40" stroke="#231f20" stroke-width="0.8" />
<text x="260.40" y="655.00" font-size="9.0" stroke="#231f20" stroke-width="0.18" >N</text>
<line x1="259.80" y1="650.00" x2="251.80" y2="644.80" stroke="#231f20" stroke-width="0.8" />
<line x1="260.80" y1="648.60" x2="252.80" y2="643.40" stroke="#231f20" stroke-width="0.8" />
<circle cx="249.80" cy="643.10" r="2.0" fill="#c8281e" stroke="#4a1510" stroke-width="0.6"/>
<line x1="249.60" y1="640.40" x2="249.60" y2="633.20" stroke="#231f20" stroke-width="0.8" />
<text x="246.20" y="631.60" font-size="9.0" stroke="#231f20" stroke-width="0.18" >N</text>
<line x1="252.40" y1="627.80" x2="260.60" y2="622.00" stroke="#231f20" stroke-width="0.8" />
<line x1="251.60" y1="626.40" x2="259.80" y2="620.60" stroke="#231f20" stroke-width="0.8" />
<text x="281.20" y="604.00" font-size="9.35" stroke="#231f20" stroke-width="0.18" >Glycine</text>
<path d="M281.8,604.6 C276.5,608.5 274.0,613.5 273.6,619.0" stroke="#231f20" stroke-width="0.8" fill="none" />
<path d="M273.30,622.80 L271.55,618.34 L275.35,618.47 Z" fill="#231f20"/>
<text x="281.40" y="616.60" font-size="9.35" stroke="#231f20" stroke-width="0.18" >10-formyl-THF</text>
<path d="M308.6,620.8 C308.8,626 306.5,629.5 304.2,631.2" stroke="#231f20" stroke-width="0.8" fill="none" />
<path d="M301.60,632.80 L304.11,628.72 L306.29,631.83 Z" fill="#231f20"/>
<text x="269.40" y="666.10" font-size="9.35" text-anchor="end" stroke="#231f20" stroke-width="0.18" >10-formyl-THF</text>
<path d="M241.6,652.6 C242.0,649 243.5,646.8 245.0,645.8" stroke="#231f20" stroke-width="0.8" fill="none" />
<path d="M247.40,644.50 L244.89,648.58 L242.71,645.47 Z" fill="#231f20"/>
<text x="266.00" y="682.00" font-size="9.35" stroke="#231f20" stroke-width="0.18" >ATP (M+4)</text>
<line x1="378.60" y1="412.70" x2="378.60" y2="472.30" stroke="#231f20" stroke-width="0.8" />
<line x1="376.40" y1="471.90" x2="378.60" y2="471.90" stroke="#231f20" stroke-width="0.8" />
<text x="373.20" y="475.00" font-size="8.6" text-anchor="end" stroke="#231f20" stroke-width="0.18" >0.0</text>
<line x1="376.40" y1="460.06" x2="378.60" y2="460.06" stroke="#231f20" stroke-width="0.8" />
<text x="373.20" y="463.16" font-size="8.6" text-anchor="end" stroke="#231f20" stroke-width="0.18" >0.2</text>
<line x1="376.40" y1="448.22" x2="378.60" y2="448.22" stroke="#231f20" stroke-width="0.8" />
<text x="373.20" y="451.32" font-size="8.6" text-anchor="end" stroke="#231f20" stroke-width="0.18" >0.4</text>
<line x1="376.40" y1="436.38" x2="378.60" y2="436.38" stroke="#231f20" stroke-width="0.8" />
<text x="373.20" y="439.48" font-size="8.6" text-anchor="end" stroke="#231f20" stroke-width="0.18" >0.6</text>
<line x1="376.40" y1="424.54" x2="378.60" y2="424.54" stroke="#231f20" stroke-width="0.8" />
<text x="373.20" y="427.64" font-size="8.6" text-anchor="end" stroke="#231f20" stroke-width="0.18" >0.8</text>
<line x1="376.40" y1="412.70" x2="378.60" y2="412.70" stroke="#231f20" stroke-width="0.8" />
<text x="373.20" y="415.80" font-size="8.6" text-anchor="end" stroke="#231f20" stroke-width="0.18" >1.0</text>
<line x1="378.20" y1="471.90" x2="434.90" y2="471.90" stroke="#231f20" stroke-width="0.8" />
<line x1="385.50" y1="471.90" x2="385.50" y2="474.90" stroke="#231f20" stroke-width="0.8" />
<rect x="380.40" y="440.82" width="10.20" height="31.08" fill="#8b8c8e" stroke="#231f20" stroke-width="0.6"/>
<rect x="380.40" y="412.70" width="10.20" height="28.12" fill="#f5b5b9" stroke="#231f20" stroke-width="0.6"/>
<line x1="385.50" y1="439.93" x2="385.50" y2="441.71" stroke="#231f20" stroke-width="0.8" />
<line x1="383.70" y1="439.64" x2="387.30" y2="439.64" stroke="#231f20" stroke-width="1.0" />
<line x1="383.70" y1="412.11" x2="387.30" y2="412.11" stroke="#231f20" stroke-width="1.0" />
<line x1="400.00" y1="471.90" x2="400.00" y2="474.90" stroke="#231f20" stroke-width="0.8" />
<rect x="394.90" y="440.82" width="10.20" height="31.08" fill="#8b8c8e" stroke="#231f20" stroke-width="0.6"/>
<rect x="394.90" y="412.70" width="10.20" height="28.12" fill="#f5b5b9" stroke="#231f20" stroke-width="0.6"/>
<line x1="400.00" y1="439.93" x2="400.00" y2="441.71" stroke="#231f20" stroke-width="0.8" />
<line x1="398.20" y1="439.64" x2="401.80" y2="439.64" stroke="#231f20" stroke-width="1.0" />
<line x1="398.20" y1="412.11" x2="401.80" y2="412.11" stroke="#231f20" stroke-width="1.0" />
<line x1="414.20" y1="471.90" x2="414.20" y2="474.90" stroke="#231f20" stroke-width="0.8" />
<rect x="409.10" y="412.70" width="10.20" height="59.20" fill="#8b8c8e" stroke="#231f20" stroke-width="0.6"/>
<line x1="428.50" y1="471.90" x2="428.50" y2="474.90" stroke="#231f20" stroke-width="0.8" />
<rect x="423.40" y="412.70" width="10.20" height="59.20" fill="#8b8c8e" stroke="#231f20" stroke-width="0.6"/>
<text x="356.00" y="440.30" font-size="9.3" text-anchor="middle" transform="rotate(-90 356.00 440.30)" stroke="#231f20" stroke-width="0.18" >Glycine fraction</text>
<rect x="439.40" y="425.10" width="9.60" height="5.60" fill="#f5b5b9" stroke="#231f20" stroke-width="0.7"/>
<text x="452.40" y="431.00" font-size="9.35" stroke="#231f20" stroke-width="0.18" >M+2</text>
<rect x="439.40" y="437.20" width="9.60" height="5.60" fill="#fff" stroke="#231f20" stroke-width="0.7"/>
<text x="452.40" y="443.10" font-size="9.35" stroke="#231f20" stroke-width="0.18" >M+1</text>
<rect x="439.40" y="449.10" width="9.60" height="5.60" fill="#8b8c8e" stroke="#231f20" stroke-width="0.7"/>
<text x="452.40" y="455.00" font-size="9.35" stroke="#231f20" stroke-width="0.18" >M+0</text>
<line x1="377.80" y1="489.58" x2="377.80" y2="551.90" stroke="#231f20" stroke-width="0.8" />
<line x1="375.60" y1="551.50" x2="377.80" y2="551.50" stroke="#231f20" stroke-width="0.8" />
<text x="373.00" y="554.60" font-size="8.6" text-anchor="end" stroke="#231f20" stroke-width="0.18" >0.0</text>
<line x1="375.60" y1="536.02" x2="377.80" y2="536.02" stroke="#231f20" stroke-width="0.8" />
<text x="373.00" y="539.12" font-size="8.6" text-anchor="end" stroke="#231f20" stroke-width="0.18" >0.2</text>
<line x1="375.60" y1="520.54" x2="377.80" y2="520.54" stroke="#231f20" stroke-width="0.8" />
<text x="373.00" y="523.64" font-size="8.6" text-anchor="end" stroke="#231f20" stroke-width="0.18" >0.4</text>
<line x1="375.60" y1="505.06" x2="377.80" y2="505.06" stroke="#231f20" stroke-width="0.8" />
<text x="373.00" y="508.16" font-size="8.6" text-anchor="end" stroke="#231f20" stroke-width="0.18" >0.6</text>
<line x1="375.60" y1="489.58" x2="377.80" y2="489.58" stroke="#231f20" stroke-width="0.8" />
<text x="373.00" y="492.68" font-size="8.6" text-anchor="end" stroke="#231f20" stroke-width="0.18" >0.8</text>
<line x1="377.40" y1="551.50" x2="434.90" y2="551.50" stroke="#231f20" stroke-width="0.8" />
<line x1="385.50" y1="551.50" x2="385.50" y2="554.50" stroke="#231f20" stroke-width="0.8" />
<rect x="380.50" y="519.77" width="10.00" height="31.73" fill="#fff" stroke="#231f20" stroke-width="0.6"/>
<line x1="385.50" y1="518.22" x2="385.50" y2="519.77" stroke="#231f20" stroke-width="0.8" />
<line x1="383.50" y1="518.22" x2="387.50" y2="518.22" stroke="#231f20" stroke-width="0.8" />
<line x1="385.50" y1="547.63" x2="385.50" y2="551.50" stroke="#231f20" stroke-width="0.8" />
<line x1="383.50" y1="547.63" x2="387.50" y2="547.63" stroke="#231f20" stroke-width="0.8" />
<line x1="400.00" y1="551.50" x2="400.00" y2="554.50" stroke="#231f20" stroke-width="0.8" />
<rect x="395.00" y="501.19" width="10.00" height="50.31" fill="#fff" stroke="#231f20" stroke-width="0.6"/>
<line x1="400.00" y1="498.09" x2="400.00" y2="501.19" stroke="#231f20" stroke-width="0.8" />
<line x1="398.00" y1="498.09" x2="402.00" y2="498.09" stroke="#231f20" stroke-width="0.8" />
<rect x="395.00" y="545.31" width="10.00" height="6.19" fill="#8b8c8e" stroke="#231f20" stroke-width="0.6"/>
<line x1="400.00" y1="540.66" x2="400.00" y2="545.31" stroke="#231f20" stroke-width="0.8" />
<line x1="398.00" y1="540.66" x2="402.00" y2="540.66" stroke="#231f20" stroke-width="0.8" />
<line x1="414.20" y1="551.50" x2="414.20" y2="554.50" stroke="#231f20" stroke-width="0.8" />
<rect x="409.20" y="547.63" width="10.00" height="3.87" fill="#8b8c8e" stroke="#231f20" stroke-width="0.6"/>
<line x1="414.20" y1="535.25" x2="414.20" y2="547.63" stroke="#231f20" stroke-width="0.8" />
<line x1="412.20" y1="535.25" x2="416.20" y2="535.25" stroke="#231f20" stroke-width="0.8" />
<line x1="428.50" y1="551.50" x2="428.50" y2="554.50" stroke="#231f20" stroke-width="0.8" />
<rect x="423.50" y="543.76" width="10.00" height="7.74" fill="#8b8c8e" stroke="#231f20" stroke-width="0.6"/>
<line x1="428.50" y1="533.70" x2="428.50" y2="543.76" stroke="#231f20" stroke-width="0.8" />
<line x1="426.50" y1="533.70" x2="430.50" y2="533.70" stroke="#231f20" stroke-width="0.8" />
<text x="344.00" y="520.80" font-size="9.3" text-anchor="middle" transform="rotate(-90 344.00 520.80)" stroke="#231f20" stroke-width="0.18" >Formate excretion</text>
<text x="354.60" y="520.20" font-size="9.3" text-anchor="middle" transform="rotate(-90 354.60 520.20)" stroke="#231f20" stroke-width="0.18" >(fmol per cell per h)</text>
<rect x="439.40" y="510.00" width="9.60" height="5.60" fill="#fff" stroke="#231f20" stroke-width="0.7"/>
<text x="452.40" y="515.90" font-size="9.35" stroke="#231f20" stroke-width="0.18" >M+1</text>
<rect x="439.40" y="522.10" width="9.60" height="5.60" fill="#8b8c8e" stroke="#231f20" stroke-width="0.7"/>
<text x="452.40" y="528.00" font-size="9.35" stroke="#231f20" stroke-width="0.18" >M+0</text>
<line x1="378.60" y1="568.20" x2="378.60" y2="627.80" stroke="#231f20" stroke-width="0.8" />
<line x1="376.40" y1="627.40" x2="378.60" y2="627.40" stroke="#231f20" stroke-width="0.8" />
<text x="373.20" y="630.50" font-size="8.6" text-anchor="end" stroke="#231f20" stroke-width="0.18" >0.0</text>
<line x1="376.40" y1="615.56" x2="378.60" y2="615.56" stroke="#231f20" stroke-width="0.8" />
<text x="373.20" y="618.66" font-size="8.6" text-anchor="end" stroke="#231f20" stroke-width="0.18" >0.2</text>
<line x1="376.40" y1="603.72" x2="378.60" y2="603.72" stroke="#231f20" stroke-width="0.8" />
<text x="373.20" y="606.82" font-size="8.6" text-anchor="end" stroke="#231f20" stroke-width="0.18" >0.4</text>
<line x1="376.40" y1="591.88" x2="378.60" y2="591.88" stroke="#231f20" stroke-width="0.8" />
<text x="373.20" y="594.98" font-size="8.6" text-anchor="end" stroke="#231f20" stroke-width="0.18" >0.6</text>
<line x1="376.40" y1="580.04" x2="378.60" y2="580.04" stroke="#231f20" stroke-width="0.8" />
<text x="373.20" y="583.14" font-size="8.6" text-anchor="end" stroke="#231f20" stroke-width="0.18" >0.8</text>
<line x1="376.40" y1="568.20" x2="378.60" y2="568.20" stroke="#231f20" stroke-width="0.8" />
<text x="373.20" y="571.30" font-size="8.6" text-anchor="end" stroke="#231f20" stroke-width="0.18" >1.0</text>
<line x1="378.20" y1="627.40" x2="434.90" y2="627.40" stroke="#231f20" stroke-width="0.8" />
<line x1="385.50" y1="627.40" x2="385.50" y2="630.40" stroke="#231f20" stroke-width="0.8" />
<rect x="380.50" y="616.15" width="10.00" height="11.25" fill="#8b8c8e" stroke="#231f20" stroke-width="0.6"/>
<rect x="380.50" y="603.72" width="10.00" height="12.43" fill="#fff" stroke="#231f20" stroke-width="0.6"/>
<rect x="380.50" y="587.74" width="10.00" height="15.98" fill="#f5b5b9" stroke="#231f20" stroke-width="0.6"/>
<rect x="380.50" y="578.26" width="10.00" height="9.47" fill="#e8321f" stroke="#231f20" stroke-width="0.6"/>
<rect x="380.50" y="568.20" width="10.00" height="10.06" fill="#8e1b1b" stroke="#231f20" stroke-width="0.6"/>
<line x1="383.70" y1="615.55" x2="387.30" y2="615.55" stroke="#231f20" stroke-width="1.0" />
<line x1="383.70" y1="603.12" x2="387.30" y2="603.12" stroke="#231f20" stroke-width="1.0" />
<line x1="383.70" y1="587.14" x2="387.30" y2="587.14" stroke="#231f20" stroke-width="1.0" />
<line x1="383.70" y1="577.66" x2="387.30" y2="577.66" stroke="#231f20" stroke-width="1.0" />
<line x1="400.00" y1="627.40" x2="400.00" y2="630.40" stroke="#231f20" stroke-width="0.8" />
<rect x="395.00" y="614.97" width="10.00" height="12.43" fill="#8b8c8e" stroke="#231f20" stroke-width="0.6"/>
<rect x="395.00" y="603.13" width="10.00" height="11.84" fill="#fff" stroke="#231f20" stroke-width="0.6"/>
<rect x="395.00" y="587.74" width="10.00" height="15.39" fill="#f5b5b9" stroke="#231f20" stroke-width="0.6"/>
<rect x="395.00" y="578.86" width="10.00" height="8.88" fill="#e8321f" stroke="#231f20" stroke-width="0.6"/>
<rect x="395.00" y="568.20" width="10.00" height="10.66" fill="#8e1b1b" stroke="#231f20" stroke-width="0.6"/>
<line x1="398.20" y1="614.37" x2="401.80" y2="614.37" stroke="#231f20" stroke-width="1.0" />
<line x1="398.20" y1="602.53" x2="401.80" y2="602.53" stroke="#231f20" stroke-width="1.0" />
<line x1="398.20" y1="587.14" x2="401.80" y2="587.14" stroke="#231f20" stroke-width="1.0" />
<line x1="398.20" y1="578.26" x2="401.80" y2="578.26" stroke="#231f20" stroke-width="1.0" />
<line x1="414.20" y1="627.40" x2="414.20" y2="630.40" stroke="#231f20" stroke-width="0.8" />
<rect x="409.20" y="568.20" width="10.00" height="59.20" fill="#8b8c8e" stroke="#231f20" stroke-width="0.6"/>
<line x1="428.50" y1="627.40" x2="428.50" y2="630.40" stroke="#231f20" stroke-width="0.8" />
<rect x="423.50" y="568.20" width="10.00" height="59.20" fill="#8b8c8e" stroke="#231f20" stroke-width="0.6"/>
<text x="355.40" y="596.60" font-size="9.3" text-anchor="middle" transform="rotate(-90 355.40 596.60)" stroke="#231f20" stroke-width="0.18" >ATP fraction</text>
<rect x="439.40" y="570.30" width="9.60" height="5.60" fill="#8e1b1b" stroke="#231f20" stroke-width="0.7"/>
<text x="452.40" y="576.20" font-size="9.35" stroke="#231f20" stroke-width="0.18" >M+4</text>
<rect x="439.40" y="582.70" width="9.60" height="5.60" fill="#e8321f" stroke="#231f20" stroke-width="0.7"/>
<text x="452.40" y="588.60" font-size="9.35" stroke="#231f20" stroke-width="0.18" >M+3</text>
<rect x="439.40" y="595.20" width="9.60" height="5.60" fill="#f5b5b9" stroke="#231f20" stroke-width="0.7"/>
<text x="452.40" y="601.10" font-size="9.35" stroke="#231f20" stroke-width="0.18" >M+2</text>
<rect x="439.40" y="607.90" width="9.60" height="5.60" fill="#fff" stroke="#231f20" stroke-width="0.7"/>
<text x="452.40" y="613.80" font-size="9.35" stroke="#231f20" stroke-width="0.18" >M+1</text>
<rect x="439.40" y="620.10" width="9.60" height="5.60" fill="#8b8c8e" stroke="#231f20" stroke-width="0.7"/>
<text x="452.40" y="626.00" font-size="9.35" stroke="#231f20" stroke-width="0.18" >M+0</text>
<text x="388.20" y="637.40" font-size="9.35" text-anchor="end" transform="rotate(-45 388.20 637.40)" stroke="#231f20" stroke-width="0.18" >Wild type</text>
<text x="402.50" y="637.80" font-size="9.35" text-anchor="end" transform="rotate(-45 402.50 637.80)" stroke="#231f20" stroke-width="0.18" >Δ<tspan font-style="italic">ADH5</tspan></text>
<text x="417.20" y="641.20" font-size="9.35" text-anchor="end" transform="rotate(-45 417.20 641.20)" stroke="#231f20" stroke-width="0.18" >Δ<tspan font-style="italic">FPGS</tspan></text>
<text x="431.60" y="640.80" font-size="9.35" text-anchor="end" transform="rotate(-45 431.60 640.80)" stroke="#231f20" stroke-width="0.18" >Δ<tspan font-style="italic">ADH5</tspan>;Δ<tspan font-style="italic">FPGS</tspan></text>
<text x="476.80" y="397.60" font-size="15.6" fill="#000" font-weight="bold" stroke="#000" stroke-width="0.45" >g</text>
<line x1="501.80" y1="428.00" x2="510.80" y2="428.00" stroke="#231f20" stroke-width="1.4" />
<rect x="503.95" y="425.65" width="4.70" height="4.70" fill="#231f20" stroke="none" stroke-width="0.6"/>
<text x="512.00" y="431.30" font-size="9.35" stroke="#231f20" stroke-width="0.18" >Wild type</text>
<line x1="554.20" y1="428.00" x2="564.40" y2="428.00" stroke="#4a56a6" stroke-width="1.4" />
<path d="M559.30,424.94 L562.21,430.18 L556.39,430.18 Z" fill="#4a56a6"/>
<text x="566.20" y="431.30" font-size="9.35" stroke="#231f20" stroke-width="0.18" >Δ<tspan font-style="italic">FPGS</tspan></text>
<line x1="501.80" y1="446.90" x2="510.80" y2="446.90" stroke="#d9261e" stroke-width="1.4" />
<circle cx="506.30" cy="446.90" r="2.4640000000000004" fill="#d9261e" stroke="none" stroke-width="0.5"/>
<text x="512.00" y="450.20" font-size="9.35" stroke="#231f20" stroke-width="0.18" >Δ<tspan font-style="italic">ADH5</tspan></text>
<line x1="555.40" y1="446.90" x2="564.40" y2="446.90" stroke="#14894a" stroke-width="1.4" />
<path d="M559.90,444.44 L562.36,446.90 L559.90,449.36 L557.44,446.90 Z" fill="#14894a"/>
<text x="566.20" y="450.20" font-size="9.35" stroke="#231f20" stroke-width="0.18" >Δ<tspan font-style="italic">ADH5</tspan>;Δ<tspan font-style="italic">FPGS</tspan></text>
<text x="571.00" y="475.70" font-size="9.35" text-anchor="middle" stroke="#231f20" stroke-width="0.18" >Medium: +Gly +HT</text>
<line x1="516.30" y1="492.80" x2="516.30" y2="622.50" stroke="#231f20" stroke-width="0.8" />
<line x1="513.80" y1="622.10" x2="516.30" y2="622.10" stroke="#231f20" stroke-width="0.8" />
<text x="511.80" y="625.40" font-size="9.35" text-anchor="end" stroke="#231f20" stroke-width="0.18" >0</text>
<line x1="513.80" y1="600.55" x2="516.30" y2="600.55" stroke="#231f20" stroke-width="0.8" />
<text x="511.80" y="603.85" font-size="9.35" text-anchor="end" stroke="#231f20" stroke-width="0.18" >20</text>
<line x1="513.80" y1="579.00" x2="516.30" y2="579.00" stroke="#231f20" stroke-width="0.8" />
<text x="511.80" y="582.30" font-size="9.35" text-anchor="end" stroke="#231f20" stroke-width="0.18" >40</text>
<line x1="513.80" y1="557.45" x2="516.30" y2="557.45" stroke="#231f20" stroke-width="0.8" />
<text x="511.80" y="560.75" font-size="9.35" text-anchor="end" stroke="#231f20" stroke-width="0.18" >60</text>
<line x1="513.80" y1="535.90" x2="516.30" y2="535.90" stroke="#231f20" stroke-width="0.8" />
<text x="511.80" y="539.20" font-size="9.35" text-anchor="end" stroke="#231f20" stroke-width="0.18" >80</text>
<line x1="513.80" y1="514.35" x2="516.30" y2="514.35" stroke="#231f20" stroke-width="0.8" />
<text x="511.80" y="517.65" font-size="9.35" text-anchor="end" stroke="#231f20" stroke-width="0.18" >100</text>
<line x1="513.80" y1="492.80" x2="516.30" y2="492.80" stroke="#231f20" stroke-width="0.8" />
<text x="511.80" y="496.10" font-size="9.35" text-anchor="end" stroke="#231f20" stroke-width="0.18" >120</text>
<line x1="515.90" y1="622.10" x2="620.46" y2="622.10" stroke="#231f20" stroke-width="0.8" />
<line x1="516.30" y1="622.10" x2="516.30" y2="624.90" stroke="#231f20" stroke-width="0.8" />
<line x1="522.78" y1="622.10" x2="522.78" y2="623.90" stroke="#231f20" stroke-width="0.8" />
<line x1="529.27" y1="622.10" x2="529.27" y2="623.90" stroke="#231f20" stroke-width="0.8" />
<line x1="535.75" y1="622.10" x2="535.75" y2="623.90" stroke="#231f20" stroke-width="0.8" />
<line x1="542.24" y1="622.10" x2="542.24" y2="624.90" stroke="#231f20" stroke-width="0.8" />
<line x1="548.72" y1="622.10" x2="548.72" y2="623.90" stroke="#231f20" stroke-width="0.8" />
<line x1="555.21" y1="622.10" x2="555.21" y2="623.90" stroke="#231f20" stroke-width="0.8" />
<line x1="561.69" y1="622.10" x2="561.69" y2="623.90" stroke="#231f20" stroke-width="0.8" />
<line x1="568.18" y1="622.10" x2="568.18" y2="624.90" stroke="#231f20" stroke-width="0.8" />
<line x1="574.66" y1="622.10" x2="574.66" y2="623.90" stroke="#231f20" stroke-width="0.8" />
<line x1="581.15" y1="622.10" x2="581.15" y2="623.90" stroke="#231f20" stroke-width="0.8" />
<line x1="587.63" y1="622.10" x2="587.63" y2="623.90" stroke="#231f20" stroke-width="0.8" />
<line x1="594.12" y1="622.10" x2="594.12" y2="624.90" stroke="#231f20" stroke-width="0.8" />
<line x1="600.60" y1="622.10" x2="600.60" y2="623.90" stroke="#231f20" stroke-width="0.8" />
<line x1="607.09" y1="622.10" x2="607.09" y2="623.90" stroke="#231f20" stroke-width="0.8" />
<line x1="613.57" y1="622.10" x2="613.57" y2="623.90" stroke="#231f20" stroke-width="0.8" />
<line x1="620.06" y1="622.10" x2="620.06" y2="624.90" stroke="#231f20" stroke-width="0.8" />
<text x="516.30" y="636.00" font-size="9.35" text-anchor="middle" stroke="#231f20" stroke-width="0.18" >0</text>
<text x="542.24" y="636.00" font-size="9.35" text-anchor="middle" stroke="#231f20" stroke-width="0.18" >20</text>
<text x="568.18" y="636.00" font-size="9.35" text-anchor="middle" stroke="#231f20" stroke-width="0.18" >40</text>
<text x="594.12" y="636.00" font-size="9.35" text-anchor="middle" stroke="#231f20" stroke-width="0.18" >60</text>
<text x="620.06" y="636.00" font-size="9.35" text-anchor="middle" stroke="#231f20" stroke-width="0.18" >80</text>
<text x="570.80" y="649.00" font-size="9.35" text-anchor="middle" stroke="#231f20" stroke-width="0.18" >Tetrahydrofolate (µM)</text>
<text x="490.00" y="557.40" font-size="9.5" text-anchor="middle" transform="rotate(-90 490.00 557.40)" stroke="#231f20" stroke-width="0.18" >Cell viability (% untreated)</text>
<line x1="529.50" y1="505.08" x2="529.50" y2="511.55" stroke="#4a56a6" stroke-width="0.85" />
<line x1="527.20" y1="505.08" x2="531.80" y2="505.08" stroke="#4a56a6" stroke-width="0.85" />
<line x1="527.20" y1="511.55" x2="531.80" y2="511.55" stroke="#4a56a6" stroke-width="0.85" />
<line x1="542.50" y1="504.65" x2="542.50" y2="513.27" stroke="#4a56a6" stroke-width="0.85" />
<line x1="540.20" y1="504.65" x2="544.80" y2="504.65" stroke="#4a56a6" stroke-width="0.85" />
<line x1="540.20" y1="513.27" x2="544.80" y2="513.27" stroke="#4a56a6" stroke-width="0.85" />
<line x1="555.50" y1="504.01" x2="555.50" y2="512.63" stroke="#4a56a6" stroke-width="0.85" />
<line x1="553.20" y1="504.01" x2="557.80" y2="504.01" stroke="#4a56a6" stroke-width="0.85" />
<line x1="553.20" y1="512.63" x2="557.80" y2="512.63" stroke="#4a56a6" stroke-width="0.85" />
<line x1="568.50" y1="507.56" x2="568.50" y2="520.49" stroke="#4a56a6" stroke-width="0.85" />
<line x1="566.20" y1="507.56" x2="570.80" y2="507.56" stroke="#4a56a6" stroke-width="0.85" />
<line x1="566.20" y1="520.49" x2="570.80" y2="520.49" stroke="#4a56a6" stroke-width="0.85" />
<line x1="581.50" y1="512.84" x2="581.50" y2="524.69" stroke="#4a56a6" stroke-width="0.85" />
<line x1="579.20" y1="512.84" x2="583.80" y2="512.84" stroke="#4a56a6" stroke-width="0.85" />
<line x1="579.20" y1="524.69" x2="583.80" y2="524.69" stroke="#4a56a6" stroke-width="0.85" />
<line x1="594.50" y1="520.38" x2="594.50" y2="537.62" stroke="#4a56a6" stroke-width="0.85" />
<line x1="592.20" y1="520.38" x2="596.80" y2="520.38" stroke="#4a56a6" stroke-width="0.85" />
<line x1="592.20" y1="537.62" x2="596.80" y2="537.62" stroke="#4a56a6" stroke-width="0.85" />
<line x1="607.50" y1="538.59" x2="607.50" y2="556.91" stroke="#4a56a6" stroke-width="0.85" />
<line x1="605.20" y1="538.59" x2="609.80" y2="538.59" stroke="#4a56a6" stroke-width="0.85" />
<line x1="605.20" y1="556.91" x2="609.80" y2="556.91" stroke="#4a56a6" stroke-width="0.85" />
<line x1="620.50" y1="556.70" x2="620.50" y2="578.25" stroke="#4a56a6" stroke-width="0.85" />
<line x1="618.20" y1="556.70" x2="622.80" y2="556.70" stroke="#4a56a6" stroke-width="0.85" />
<line x1="618.20" y1="578.25" x2="622.80" y2="578.25" stroke="#4a56a6" stroke-width="0.85" />
<path d="M516.30,514.35 L529.27,508.32 L542.24,508.96 L555.21,508.32 L568.18,514.03 L581.15,518.77 L594.12,529.00 L607.09,547.75 L620.06,567.47" stroke="#4a56a6" stroke-width="1.2" fill="none" />
<path d="M529.27,505.45 L532.00,510.36 L526.54,510.36 Z" fill="#4a56a6"/>
<path d="M542.24,506.10 L544.97,511.01 L539.51,511.01 Z" fill="#4a56a6"/>
<path d="M555.21,505.45 L557.94,510.36 L552.48,510.36 Z" fill="#4a56a6"/>
<path d="M568.18,511.16 L570.91,516.07 L565.45,516.07 Z" fill="#4a56a6"/>
<path d="M581.15,515.90 L583.88,520.82 L578.42,520.82 Z" fill="#4a56a6"/>
<path d="M594.12,526.14 L596.85,531.05 L591.39,531.05 Z" fill="#4a56a6"/>
<path d="M607.09,544.89 L609.82,549.80 L604.36,549.80 Z" fill="#4a56a6"/>
<path d="M620.06,564.60 L622.79,569.52 L617.33,569.52 Z" fill="#4a56a6"/>
<line x1="529.50" y1="505.51" x2="529.50" y2="514.13" stroke="#231f20" stroke-width="0.85" />
<line x1="527.20" y1="505.51" x2="531.80" y2="505.51" stroke="#231f20" stroke-width="0.85" />
<line x1="527.20" y1="514.13" x2="531.80" y2="514.13" stroke="#231f20" stroke-width="0.85" />
<line x1="542.50" y1="508.75" x2="542.50" y2="516.29" stroke="#231f20" stroke-width="0.85" />
<line x1="540.20" y1="508.75" x2="544.80" y2="508.75" stroke="#231f20" stroke-width="0.85" />
<line x1="540.20" y1="516.29" x2="544.80" y2="516.29" stroke="#231f20" stroke-width="0.85" />
<line x1="555.50" y1="506.05" x2="555.50" y2="518.98" stroke="#231f20" stroke-width="0.85" />
<line x1="553.20" y1="506.05" x2="557.80" y2="506.05" stroke="#231f20" stroke-width="0.85" />
<line x1="553.20" y1="518.98" x2="557.80" y2="518.98" stroke="#231f20" stroke-width="0.85" />
<line x1="568.50" y1="511.76" x2="568.50" y2="522.54" stroke="#231f20" stroke-width="0.85" />
<line x1="566.20" y1="511.76" x2="570.80" y2="511.76" stroke="#231f20" stroke-width="0.85" />
<line x1="566.20" y1="522.54" x2="570.80" y2="522.54" stroke="#231f20" stroke-width="0.85" />
<line x1="581.50" y1="521.89" x2="581.50" y2="528.36" stroke="#231f20" stroke-width="0.85" />
<line x1="579.20" y1="521.89" x2="583.80" y2="521.89" stroke="#231f20" stroke-width="0.85" />
<line x1="579.20" y1="528.36" x2="583.80" y2="528.36" stroke="#231f20" stroke-width="0.85" />
<line x1="594.50" y1="532.45" x2="594.50" y2="545.38" stroke="#231f20" stroke-width="0.85" />
<line x1="592.20" y1="532.45" x2="596.80" y2="532.45" stroke="#231f20" stroke-width="0.85" />
<line x1="592.20" y1="545.38" x2="596.80" y2="545.38" stroke="#231f20" stroke-width="0.85" />
<line x1="607.50" y1="554.22" x2="607.50" y2="561.76" stroke="#231f20" stroke-width="0.85" />
<line x1="605.20" y1="554.22" x2="609.80" y2="554.22" stroke="#231f20" stroke-width="0.85" />
<line x1="605.20" y1="561.76" x2="609.80" y2="561.76" stroke="#231f20" stroke-width="0.85" />
<line x1="620.50" y1="568.01" x2="620.50" y2="577.71" stroke="#231f20" stroke-width="0.85" />
<line x1="618.20" y1="568.01" x2="622.80" y2="568.01" stroke="#231f20" stroke-width="0.85" />
<line x1="618.20" y1="577.71" x2="622.80" y2="577.71" stroke="#231f20" stroke-width="0.85" />
<path d="M516.30,514.35 L529.27,509.82 L542.24,512.52 L555.21,512.52 L568.18,517.15 L581.15,525.12 L594.12,538.92 L607.09,557.99 L620.06,572.86" stroke="#231f20" stroke-width="1.2" fill="none" />
<rect x="527.06" y="507.62" width="4.41" height="4.41" fill="#231f20" stroke="none" stroke-width="0.6"/>
<rect x="540.03" y="510.31" width="4.41" height="4.41" fill="#231f20" stroke="none" stroke-width="0.6"/>
<rect x="553.00" y="510.31" width="4.41" height="4.41" fill="#231f20" stroke="none" stroke-width="0.6"/>
<rect x="565.97" y="514.95" width="4.41" height="4.41" fill="#231f20" stroke="none" stroke-width="0.6"/>
<rect x="578.94" y="522.92" width="4.41" height="4.41" fill="#231f20" stroke="none" stroke-width="0.6"/>
<rect x="591.91" y="536.71" width="4.41" height="4.41" fill="#231f20" stroke="none" stroke-width="0.6"/>
<rect x="604.88" y="555.78" width="4.41" height="4.41" fill="#231f20" stroke="none" stroke-width="0.6"/>
<rect x="617.85" y="570.65" width="4.41" height="4.41" fill="#231f20" stroke="none" stroke-width="0.6"/>
<line x1="529.50" y1="518.66" x2="529.50" y2="525.12" stroke="#14894a" stroke-width="0.85" />
<line x1="527.20" y1="518.66" x2="531.80" y2="518.66" stroke="#14894a" stroke-width="0.85" />
<line x1="527.20" y1="525.12" x2="531.80" y2="525.12" stroke="#14894a" stroke-width="0.85" />
<line x1="542.50" y1="539.78" x2="542.50" y2="567.79" stroke="#14894a" stroke-width="0.85" />
<line x1="540.20" y1="539.78" x2="544.80" y2="539.78" stroke="#14894a" stroke-width="0.85" />
<line x1="540.20" y1="567.79" x2="544.80" y2="567.79" stroke="#14894a" stroke-width="0.85" />
<line x1="555.50" y1="573.61" x2="555.50" y2="605.94" stroke="#14894a" stroke-width="0.85" />
<line x1="553.20" y1="573.61" x2="557.80" y2="573.61" stroke="#14894a" stroke-width="0.85" />
<line x1="553.20" y1="605.94" x2="557.80" y2="605.94" stroke="#14894a" stroke-width="0.85" />
<line x1="568.50" y1="600.23" x2="568.50" y2="617.47" stroke="#14894a" stroke-width="0.85" />
<line x1="566.20" y1="600.23" x2="570.80" y2="600.23" stroke="#14894a" stroke-width="0.85" />
<line x1="566.20" y1="617.47" x2="570.80" y2="617.47" stroke="#14894a" stroke-width="0.85" />
<line x1="581.50" y1="616.28" x2="581.50" y2="619.51" stroke="#14894a" stroke-width="0.85" />
<line x1="579.20" y1="616.28" x2="583.80" y2="616.28" stroke="#14894a" stroke-width="0.85" />
<line x1="579.20" y1="619.51" x2="583.80" y2="619.51" stroke="#14894a" stroke-width="0.85" />
<path d="M516.30,514.35 L529.27,521.89 L542.24,553.79 L555.21,589.77 L568.18,608.85 L581.15,617.90 L594.12,621.56 L607.09,621.88 L620.06,621.88" stroke="#14894a" stroke-width="1.2" fill="none" />
<path d="M529.27,519.58 L531.58,521.89 L529.27,524.20 L526.96,521.89 Z" fill="#14894a"/>
<path d="M542.24,551.48 L544.55,553.79 L542.24,556.10 L539.93,553.79 Z" fill="#14894a"/>
<path d="M555.21,587.47 L557.52,589.77 L555.21,592.08 L552.90,589.77 Z" fill="#14894a"/>
<path d="M568.18,606.54 L570.49,608.85 L568.18,611.16 L565.87,608.85 Z" fill="#14894a"/>
<path d="M581.15,615.59 L583.46,617.90 L581.15,620.21 L578.84,617.90 Z" fill="#14894a"/>
<path d="M594.12,619.25 L596.43,621.56 L594.12,623.87 L591.81,621.56 Z" fill="#14894a"/>
<path d="M607.09,619.57 L609.40,621.88 L607.09,624.19 L604.78,621.88 Z" fill="#14894a"/>
<path d="M620.06,619.57 L622.37,621.88 L620.06,624.19 L617.75,621.88 Z" fill="#14894a"/>
<line x1="529.50" y1="518.66" x2="529.50" y2="526.20" stroke="#d9261e" stroke-width="0.85" />
<line x1="527.20" y1="518.66" x2="531.80" y2="518.66" stroke="#d9261e" stroke-width="0.85" />
<line x1="527.20" y1="526.20" x2="531.80" y2="526.20" stroke="#d9261e" stroke-width="0.85" />
<line x1="542.50" y1="546.68" x2="542.50" y2="569.30" stroke="#d9261e" stroke-width="0.85" />
<line x1="540.20" y1="546.68" x2="544.80" y2="546.68" stroke="#d9261e" stroke-width="0.85" />
<line x1="540.20" y1="569.30" x2="544.80" y2="569.30" stroke="#d9261e" stroke-width="0.85" />
<line x1="555.50" y1="579.86" x2="555.50" y2="604.64" stroke="#d9261e" stroke-width="0.85" />
<line x1="553.20" y1="579.86" x2="557.80" y2="579.86" stroke="#d9261e" stroke-width="0.85" />
<line x1="553.20" y1="604.64" x2="557.80" y2="604.64" stroke="#d9261e" stroke-width="0.85" />
<line x1="568.50" y1="610.79" x2="568.50" y2="617.25" stroke="#d9261e" stroke-width="0.85" />
<line x1="566.20" y1="610.79" x2="570.80" y2="610.79" stroke="#d9261e" stroke-width="0.85" />
<line x1="566.20" y1="617.25" x2="570.80" y2="617.25" stroke="#d9261e" stroke-width="0.85" />
<line x1="581.50" y1="620.48" x2="581.50" y2="621.56" stroke="#d9261e" stroke-width="0.85" />
<line x1="579.20" y1="620.48" x2="583.80" y2="620.48" stroke="#d9261e" stroke-width="0.85" />
<line x1="579.20" y1="621.56" x2="583.80" y2="621.56" stroke="#d9261e" stroke-width="0.85" />
<path d="M516.30,514.35 L529.27,522.43 L542.24,557.99 L555.21,592.25 L568.18,614.02 L581.15,621.02 L594.12,621.78 L607.09,621.78 L620.06,621.78" stroke="#d9261e" stroke-width="1.2" fill="none" />
<circle cx="529.27" cy="522.43" r="2.3100000000000005" fill="#d9261e" stroke="none" stroke-width="0.5"/>
<circle cx="542.24" cy="557.99" r="2.3100000000000005" fill="#d9261e" stroke="none" stroke-width="0.5"/>
<circle cx="555.21" cy="592.25" r="2.3100000000000005" fill="#d9261e" stroke="none" stroke-width="0.5"/>
<circle cx="568.18" cy="614.02" r="2.3100000000000005" fill="#d9261e" stroke="none" stroke-width="0.5"/>
<circle cx="581.15" cy="621.02" r="2.3100000000000005" fill="#d9261e" stroke="none" stroke-width="0.5"/>
<circle cx="594.12" cy="621.78" r="2.3100000000000005" fill="#d9261e" stroke="none" stroke-width="0.5"/>
<circle cx="607.09" cy="621.78" r="2.3100000000000005" fill="#d9261e" stroke="none" stroke-width="0.5"/>
<circle cx="620.06" cy="621.78" r="2.3100000000000005" fill="#d9261e" stroke="none" stroke-width="0.5"/>
</svg></body></html>
